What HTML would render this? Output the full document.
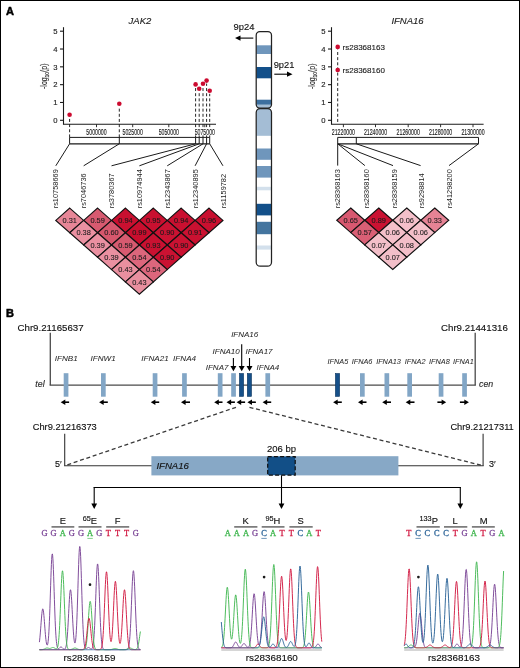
<!DOCTYPE html><html><head><meta charset="utf-8"><style>html,body{margin:0;padding:0;background:#fff;}svg{display:block;will-change:transform;} text{stroke-width:0.14px;paint-order:stroke;}</style></head><body><svg width="520" height="668" viewBox="0 0 520 668"><rect x="0.5" y="0.5" width="519" height="667" fill="none" stroke="#000" stroke-width="1"/>
<text x="6.00" y="14.80" font-size="11" text-anchor="start" font-weight="bold" font-style="normal" fill="#000" stroke="#000" font-family='"Liberation Sans", sans-serif' style="stroke-width:0.5px">A</text>
<text x="6.00" y="317.00" font-size="11" text-anchor="start" font-weight="bold" font-style="normal" fill="#000" stroke="#000" font-family='"Liberation Sans", sans-serif' style="stroke-width:0.5px">B</text>
<text x="128.60" y="24.40" font-size="9.5" text-anchor="start" font-weight="normal" font-style="italic" fill="#222" stroke="#222" font-family='"Liberation Sans", sans-serif' >JAK2</text>
<line x1="69.60" y1="137.40" x2="69.60" y2="117.80" stroke="#1a1a1a" stroke-width="0.95" stroke-dasharray="3,2.15"/>
<line x1="119.30" y1="137.40" x2="119.30" y2="106.80" stroke="#1a1a1a" stroke-width="0.95" stroke-dasharray="3,2.15"/>
<line x1="195.60" y1="137.40" x2="195.60" y2="87.40" stroke="#1a1a1a" stroke-width="0.95" stroke-dasharray="3,2.15"/>
<line x1="199.20" y1="137.40" x2="199.20" y2="91.80" stroke="#1a1a1a" stroke-width="0.95" stroke-dasharray="3,2.15"/>
<line x1="203.00" y1="137.40" x2="203.00" y2="86.80" stroke="#1a1a1a" stroke-width="0.95" stroke-dasharray="3,2.15"/>
<line x1="206.60" y1="137.40" x2="206.60" y2="83.60" stroke="#1a1a1a" stroke-width="0.95" stroke-dasharray="3,2.15"/>
<line x1="209.70" y1="137.40" x2="209.70" y2="93.80" stroke="#1a1a1a" stroke-width="0.95" stroke-dasharray="3,2.15"/>
<line x1="63.50" y1="27.20" x2="63.50" y2="124.30" stroke="#1a1a1a" stroke-width="1.1" />
<line x1="60.00" y1="120.30" x2="63.50" y2="120.30" stroke="#1a1a1a" stroke-width="1.1" />
<text x="57.50" y="123.05" font-size="7.7" text-anchor="end" font-weight="normal" font-style="normal" fill="#222" stroke="#222" font-family='"Liberation Sans", sans-serif' >0</text>
<line x1="60.00" y1="102.48" x2="63.50" y2="102.48" stroke="#1a1a1a" stroke-width="1.1" />
<text x="57.50" y="105.23" font-size="7.7" text-anchor="end" font-weight="normal" font-style="normal" fill="#222" stroke="#222" font-family='"Liberation Sans", sans-serif' >1</text>
<line x1="60.00" y1="84.66" x2="63.50" y2="84.66" stroke="#1a1a1a" stroke-width="1.1" />
<text x="57.50" y="87.41" font-size="7.7" text-anchor="end" font-weight="normal" font-style="normal" fill="#222" stroke="#222" font-family='"Liberation Sans", sans-serif' >2</text>
<line x1="60.00" y1="66.84" x2="63.50" y2="66.84" stroke="#1a1a1a" stroke-width="1.1" />
<text x="57.50" y="69.59" font-size="7.7" text-anchor="end" font-weight="normal" font-style="normal" fill="#222" stroke="#222" font-family='"Liberation Sans", sans-serif' >3</text>
<line x1="60.00" y1="49.02" x2="63.50" y2="49.02" stroke="#1a1a1a" stroke-width="1.1" />
<text x="57.50" y="51.77" font-size="7.7" text-anchor="end" font-weight="normal" font-style="normal" fill="#222" stroke="#222" font-family='"Liberation Sans", sans-serif' >4</text>
<line x1="60.00" y1="31.20" x2="63.50" y2="31.20" stroke="#1a1a1a" stroke-width="1.1" />
<text x="57.50" y="33.95" font-size="7.7" text-anchor="end" font-weight="normal" font-style="normal" fill="#222" stroke="#222" font-family='"Liberation Sans", sans-serif' >5</text>
<line x1="62.95" y1="124.30" x2="216.00" y2="124.30" stroke="#1a1a1a" stroke-width="1.1" />
<line x1="96.50" y1="124.30" x2="96.50" y2="127.20" stroke="#1a1a1a" stroke-width="0.9" />
<rect x="85.84" y="128.2" width="21.32" height="7.2" fill="#fff"/>
<text transform="translate(96.50,134.7) scale(0.58,1)" font-size="9" text-anchor="middle" fill="#1a1a1a" stroke="#1a1a1a" font-family='"Liberation Sans", sans-serif'>5000000</text>
<line x1="132.70" y1="124.30" x2="132.70" y2="127.20" stroke="#1a1a1a" stroke-width="0.9" />
<rect x="122.04" y="128.2" width="21.32" height="7.2" fill="#fff"/>
<text transform="translate(132.70,134.7) scale(0.58,1)" font-size="9" text-anchor="middle" fill="#1a1a1a" stroke="#1a1a1a" font-family='"Liberation Sans", sans-serif'>5025000</text>
<line x1="168.80" y1="124.30" x2="168.80" y2="127.20" stroke="#1a1a1a" stroke-width="0.9" />
<rect x="158.14" y="128.2" width="21.32" height="7.2" fill="#fff"/>
<text transform="translate(168.80,134.7) scale(0.58,1)" font-size="9" text-anchor="middle" fill="#1a1a1a" stroke="#1a1a1a" font-family='"Liberation Sans", sans-serif'>5050000</text>
<line x1="204.80" y1="124.30" x2="204.80" y2="127.20" stroke="#1a1a1a" stroke-width="0.9" />
<rect x="194.14" y="128.2" width="21.32" height="7.2" fill="#fff"/>
<text transform="translate(204.80,134.7) scale(0.58,1)" font-size="9" text-anchor="middle" fill="#1a1a1a" stroke="#1a1a1a" font-family='"Liberation Sans", sans-serif'>5075000</text>
<text transform="translate(46.80,76.25) rotate(-90) scale(0.82,1)" font-size="8.4" text-anchor="middle" fill="#222" stroke="#222" font-family='"Liberation Sans", sans-serif'>-log<tspan font-size="6" dy="1.7">10</tspan><tspan dy="-1.7">(p)</tspan></text>
<line x1="69.60" y1="137.40" x2="209.70" y2="137.40" stroke="#1a1a1a" stroke-width="1" />
<line x1="69.60" y1="143.80" x2="209.70" y2="143.80" stroke="#1a1a1a" stroke-width="1.25" />
<line x1="69.60" y1="137.40" x2="69.60" y2="143.80" stroke="#1a1a1a" stroke-width="1" />
<line x1="119.30" y1="137.40" x2="119.30" y2="143.80" stroke="#1a1a1a" stroke-width="1" />
<line x1="195.60" y1="137.40" x2="195.60" y2="143.80" stroke="#1a1a1a" stroke-width="1" />
<line x1="199.20" y1="137.40" x2="199.20" y2="143.80" stroke="#1a1a1a" stroke-width="1" />
<line x1="203.00" y1="137.40" x2="203.00" y2="143.80" stroke="#1a1a1a" stroke-width="1" />
<line x1="206.60" y1="137.40" x2="206.60" y2="143.80" stroke="#1a1a1a" stroke-width="1" />
<line x1="209.70" y1="137.40" x2="209.70" y2="143.80" stroke="#1a1a1a" stroke-width="1" />
<circle cx="69.6" cy="114.8" r="2.3" fill="#cc0b30"/>
<circle cx="119.3" cy="103.8" r="2.3" fill="#cc0b30"/>
<circle cx="195.6" cy="84.4" r="2.3" fill="#cc0b30"/>
<circle cx="199.2" cy="88.8" r="2.3" fill="#cc0b30"/>
<circle cx="203.0" cy="83.8" r="2.3" fill="#cc0b30"/>
<circle cx="206.6" cy="80.6" r="2.3" fill="#cc0b30"/>
<circle cx="209.7" cy="90.8" r="2.3" fill="#cc0b30"/>
<line x1="69.60" y1="143.80" x2="55.80" y2="165.80" stroke="#1a1a1a" stroke-width="1" />
<text transform="translate(58.40,208.3) rotate(-90)" font-size="7.4" fill="#222" font-family='"Liberation Sans", sans-serif'>rs10758669</text>
<line x1="119.30" y1="143.80" x2="83.66" y2="165.80" stroke="#1a1a1a" stroke-width="1" />
<text transform="translate(86.26,208.3) rotate(-90)" font-size="7.4" fill="#222" font-family='"Liberation Sans", sans-serif'>rs7046736</text>
<line x1="195.60" y1="143.80" x2="111.52" y2="165.80" stroke="#1a1a1a" stroke-width="1" />
<text transform="translate(114.12,208.3) rotate(-90)" font-size="7.4" fill="#222" font-family='"Liberation Sans", sans-serif'>rs3780367</text>
<line x1="199.20" y1="143.80" x2="139.38" y2="165.80" stroke="#1a1a1a" stroke-width="1" />
<text transform="translate(141.98,208.3) rotate(-90)" font-size="7.4" fill="#222" font-family='"Liberation Sans", sans-serif'>rs10974944</text>
<line x1="203.00" y1="143.80" x2="167.24" y2="165.80" stroke="#1a1a1a" stroke-width="1" />
<text transform="translate(169.84,208.3) rotate(-90)" font-size="7.4" fill="#222" font-family='"Liberation Sans", sans-serif'>rs12343867</text>
<line x1="206.60" y1="143.80" x2="195.10" y2="165.80" stroke="#1a1a1a" stroke-width="1" />
<text transform="translate(197.70,208.3) rotate(-90)" font-size="7.4" fill="#222" font-family='"Liberation Sans", sans-serif'>rs12340895</text>
<line x1="209.70" y1="143.80" x2="222.96" y2="165.80" stroke="#1a1a1a" stroke-width="1" />
<text transform="translate(225.56,208.3) rotate(-90)" font-size="7.4" fill="#222" font-family='"Liberation Sans", sans-serif'>rs1159782</text>
<polygon points="69.72999999999999,208.1 83.66,220.4 69.72999999999999,232.70000000000002 55.79999999999999,220.4" fill="#e78697" stroke="#111" stroke-width="1.15" stroke-linejoin="miter"/>
<polygon points="97.58999999999999,208.1 111.51999999999998,220.4 97.58999999999999,232.70000000000002 83.66,220.4" fill="#d75a70" stroke="#111" stroke-width="1.15" stroke-linejoin="miter"/>
<polygon points="125.44999999999999,208.1 139.38,220.4 125.44999999999999,232.70000000000002 111.51999999999998,220.4" fill="#c91030" stroke="#111" stroke-width="1.15" stroke-linejoin="miter"/>
<polygon points="153.31,208.1 167.24,220.4 153.31,232.70000000000002 139.38,220.4" fill="#c91030" stroke="#111" stroke-width="1.15" stroke-linejoin="miter"/>
<polygon points="181.17,208.1 195.1,220.4 181.17,232.70000000000002 167.23999999999998,220.4" fill="#c91030" stroke="#111" stroke-width="1.15" stroke-linejoin="miter"/>
<polygon points="209.03,208.1 222.96,220.4 209.03,232.70000000000002 195.1,220.4" fill="#c90f2f" stroke="#111" stroke-width="1.15" stroke-linejoin="miter"/>
<polygon points="83.66,220.4 97.59,232.70000000000002 83.66,245.00000000000003 69.72999999999999,232.70000000000002" fill="#ea90a1" stroke="#111" stroke-width="1.15" stroke-linejoin="miter"/>
<polygon points="111.52,220.4 125.44999999999999,232.70000000000002 111.52,245.00000000000003 97.59,232.70000000000002" fill="#d6576d" stroke="#111" stroke-width="1.15" stroke-linejoin="miter"/>
<polygon points="139.38,220.4 153.31,232.70000000000002 139.38,245.00000000000003 125.44999999999999,232.70000000000002" fill="#c80e2e" stroke="#111" stroke-width="1.15" stroke-linejoin="miter"/>
<polygon points="167.24,220.4 181.17000000000002,232.70000000000002 167.24,245.00000000000003 153.31,232.70000000000002" fill="#ca1232" stroke="#111" stroke-width="1.15" stroke-linejoin="miter"/>
<polygon points="195.1,220.4 209.03,232.70000000000002 195.1,245.00000000000003 181.17,232.70000000000002" fill="#ca1131" stroke="#111" stroke-width="1.15" stroke-linejoin="miter"/>
<polygon points="97.58999999999999,232.7 111.51999999999998,245.0 97.58999999999999,257.3 83.66,245.0" fill="#ea90a1" stroke="#111" stroke-width="1.15" stroke-linejoin="miter"/>
<polygon points="125.44999999999999,232.7 139.38,245.0 125.44999999999999,257.3 111.51999999999998,245.0" fill="#d75a70" stroke="#111" stroke-width="1.15" stroke-linejoin="miter"/>
<polygon points="153.31,232.7 167.24,245.0 153.31,257.3 139.38,245.0" fill="#c91131" stroke="#111" stroke-width="1.15" stroke-linejoin="miter"/>
<polygon points="181.17,232.7 195.1,245.0 181.17,257.3 167.23999999999998,245.0" fill="#ca1232" stroke="#111" stroke-width="1.15" stroke-linejoin="miter"/>
<polygon points="111.51999999999998,245.0 125.44999999999999,257.3 111.51999999999998,269.6 97.58999999999997,257.3" fill="#ea90a1" stroke="#111" stroke-width="1.15" stroke-linejoin="miter"/>
<polygon points="139.38,245.0 153.31,257.3 139.38,269.6 125.44999999999999,257.3" fill="#dc667c" stroke="#111" stroke-width="1.15" stroke-linejoin="miter"/>
<polygon points="167.23999999999998,245.0 181.17,257.3 167.23999999999998,269.6 153.30999999999997,257.3" fill="#ca1232" stroke="#111" stroke-width="1.15" stroke-linejoin="miter"/>
<polygon points="125.44999999999999,257.3 139.38,269.6 125.44999999999999,281.90000000000003 111.51999999999998,269.6" fill="#e98f9f" stroke="#111" stroke-width="1.15" stroke-linejoin="miter"/>
<polygon points="153.31,257.3 167.24,269.6 153.31,281.90000000000003 139.38,269.6" fill="#dc667c" stroke="#111" stroke-width="1.15" stroke-linejoin="miter"/>
<polygon points="139.38,269.59999999999997 153.31,281.9 139.38,294.2 125.44999999999999,281.9" fill="#e98f9f" stroke="#111" stroke-width="1.15" stroke-linejoin="miter"/>
<text x="69.73" y="223.00" font-size="7.4" text-anchor="middle" font-weight="normal" font-style="normal" fill="#1a1a1a" stroke="#1a1a1a" font-family='"Liberation Sans", sans-serif' style="stroke-width:0.08px">0.31</text>
<text x="97.59" y="223.00" font-size="7.4" text-anchor="middle" font-weight="normal" font-style="normal" fill="#1a1a1a" stroke="#1a1a1a" font-family='"Liberation Sans", sans-serif' style="stroke-width:0.08px">0.59</text>
<text x="125.45" y="223.00" font-size="7.4" text-anchor="middle" font-weight="normal" font-style="normal" fill="#1a1a1a" stroke="#1a1a1a" font-family='"Liberation Sans", sans-serif' style="stroke-width:0.08px">0.94</text>
<text x="153.31" y="223.00" font-size="7.4" text-anchor="middle" font-weight="normal" font-style="normal" fill="#1a1a1a" stroke="#1a1a1a" font-family='"Liberation Sans", sans-serif' style="stroke-width:0.08px">0.95</text>
<text x="181.17" y="223.00" font-size="7.4" text-anchor="middle" font-weight="normal" font-style="normal" fill="#1a1a1a" stroke="#1a1a1a" font-family='"Liberation Sans", sans-serif' style="stroke-width:0.08px">0.94</text>
<text x="209.03" y="223.00" font-size="7.4" text-anchor="middle" font-weight="normal" font-style="normal" fill="#1a1a1a" stroke="#1a1a1a" font-family='"Liberation Sans", sans-serif' style="stroke-width:0.08px">0.96</text>
<text x="83.66" y="235.30" font-size="7.4" text-anchor="middle" font-weight="normal" font-style="normal" fill="#1a1a1a" stroke="#1a1a1a" font-family='"Liberation Sans", sans-serif' style="stroke-width:0.08px">0.38</text>
<text x="111.52" y="235.30" font-size="7.4" text-anchor="middle" font-weight="normal" font-style="normal" fill="#1a1a1a" stroke="#1a1a1a" font-family='"Liberation Sans", sans-serif' style="stroke-width:0.08px">0.60</text>
<text x="139.38" y="235.30" font-size="7.4" text-anchor="middle" font-weight="normal" font-style="normal" fill="#1a1a1a" stroke="#1a1a1a" font-family='"Liberation Sans", sans-serif' style="stroke-width:0.08px">0.99</text>
<text x="167.24" y="235.30" font-size="7.4" text-anchor="middle" font-weight="normal" font-style="normal" fill="#1a1a1a" stroke="#1a1a1a" font-family='"Liberation Sans", sans-serif' style="stroke-width:0.08px">0.90</text>
<text x="195.10" y="235.30" font-size="7.4" text-anchor="middle" font-weight="normal" font-style="normal" fill="#1a1a1a" stroke="#1a1a1a" font-family='"Liberation Sans", sans-serif' style="stroke-width:0.08px">0.91</text>
<text x="97.59" y="247.60" font-size="7.4" text-anchor="middle" font-weight="normal" font-style="normal" fill="#1a1a1a" stroke="#1a1a1a" font-family='"Liberation Sans", sans-serif' style="stroke-width:0.08px">0.39</text>
<text x="125.45" y="247.60" font-size="7.4" text-anchor="middle" font-weight="normal" font-style="normal" fill="#1a1a1a" stroke="#1a1a1a" font-family='"Liberation Sans", sans-serif' style="stroke-width:0.08px">0.59</text>
<text x="153.31" y="247.60" font-size="7.4" text-anchor="middle" font-weight="normal" font-style="normal" fill="#1a1a1a" stroke="#1a1a1a" font-family='"Liberation Sans", sans-serif' style="stroke-width:0.08px">0.93</text>
<text x="181.17" y="247.60" font-size="7.4" text-anchor="middle" font-weight="normal" font-style="normal" fill="#1a1a1a" stroke="#1a1a1a" font-family='"Liberation Sans", sans-serif' style="stroke-width:0.08px">0.90</text>
<text x="111.52" y="259.90" font-size="7.4" text-anchor="middle" font-weight="normal" font-style="normal" fill="#1a1a1a" stroke="#1a1a1a" font-family='"Liberation Sans", sans-serif' style="stroke-width:0.08px">0.39</text>
<text x="139.38" y="259.90" font-size="7.4" text-anchor="middle" font-weight="normal" font-style="normal" fill="#1a1a1a" stroke="#1a1a1a" font-family='"Liberation Sans", sans-serif' style="stroke-width:0.08px">0.54</text>
<text x="167.24" y="259.90" font-size="7.4" text-anchor="middle" font-weight="normal" font-style="normal" fill="#1a1a1a" stroke="#1a1a1a" font-family='"Liberation Sans", sans-serif' style="stroke-width:0.08px">0.90</text>
<text x="125.45" y="272.20" font-size="7.4" text-anchor="middle" font-weight="normal" font-style="normal" fill="#1a1a1a" stroke="#1a1a1a" font-family='"Liberation Sans", sans-serif' style="stroke-width:0.08px">0.43</text>
<text x="153.31" y="272.20" font-size="7.4" text-anchor="middle" font-weight="normal" font-style="normal" fill="#1a1a1a" stroke="#1a1a1a" font-family='"Liberation Sans", sans-serif' style="stroke-width:0.08px">0.54</text>
<text x="139.38" y="284.50" font-size="7.4" text-anchor="middle" font-weight="normal" font-style="normal" fill="#1a1a1a" stroke="#1a1a1a" font-family='"Liberation Sans", sans-serif' style="stroke-width:0.08px">0.43</text>
<text x="391.40" y="24.40" font-size="9.5" text-anchor="start" font-weight="normal" font-style="italic" fill="#222" stroke="#222" font-family='"Liberation Sans", sans-serif' >IFNA16</text>
<line x1="337.70" y1="124.00" x2="337.70" y2="49.50" stroke="#1a1a1a" stroke-width="0.95" stroke-dasharray="3,2.15" stroke-dashoffset="3.1"/>
<line x1="331.50" y1="27.20" x2="331.50" y2="124.30" stroke="#1a1a1a" stroke-width="1.1" />
<line x1="328.00" y1="120.30" x2="331.50" y2="120.30" stroke="#1a1a1a" stroke-width="1.1" />
<text x="325.50" y="123.05" font-size="7.7" text-anchor="end" font-weight="normal" font-style="normal" fill="#222" stroke="#222" font-family='"Liberation Sans", sans-serif' >0</text>
<line x1="328.00" y1="102.48" x2="331.50" y2="102.48" stroke="#1a1a1a" stroke-width="1.1" />
<text x="325.50" y="105.23" font-size="7.7" text-anchor="end" font-weight="normal" font-style="normal" fill="#222" stroke="#222" font-family='"Liberation Sans", sans-serif' >1</text>
<line x1="328.00" y1="84.66" x2="331.50" y2="84.66" stroke="#1a1a1a" stroke-width="1.1" />
<text x="325.50" y="87.41" font-size="7.7" text-anchor="end" font-weight="normal" font-style="normal" fill="#222" stroke="#222" font-family='"Liberation Sans", sans-serif' >2</text>
<line x1="328.00" y1="66.84" x2="331.50" y2="66.84" stroke="#1a1a1a" stroke-width="1.1" />
<text x="325.50" y="69.59" font-size="7.7" text-anchor="end" font-weight="normal" font-style="normal" fill="#222" stroke="#222" font-family='"Liberation Sans", sans-serif' >3</text>
<line x1="328.00" y1="49.02" x2="331.50" y2="49.02" stroke="#1a1a1a" stroke-width="1.1" />
<text x="325.50" y="51.77" font-size="7.7" text-anchor="end" font-weight="normal" font-style="normal" fill="#222" stroke="#222" font-family='"Liberation Sans", sans-serif' >4</text>
<line x1="328.00" y1="31.20" x2="331.50" y2="31.20" stroke="#1a1a1a" stroke-width="1.1" />
<text x="325.50" y="33.95" font-size="7.7" text-anchor="end" font-weight="normal" font-style="normal" fill="#222" stroke="#222" font-family='"Liberation Sans", sans-serif' >5</text>
<line x1="330.95" y1="124.30" x2="483.60" y2="124.30" stroke="#1a1a1a" stroke-width="1.1" />
<line x1="343.40" y1="124.30" x2="343.40" y2="127.20" stroke="#1a1a1a" stroke-width="0.9" />
<rect x="331.29" y="128.2" width="24.22" height="7.2" fill="#fff"/>
<text transform="translate(343.40,134.7) scale(0.58,1)" font-size="9" text-anchor="middle" fill="#1a1a1a" stroke="#1a1a1a" font-family='"Liberation Sans", sans-serif'>21220000</text>
<line x1="375.50" y1="124.30" x2="375.50" y2="127.20" stroke="#1a1a1a" stroke-width="0.9" />
<rect x="363.39" y="128.2" width="24.22" height="7.2" fill="#fff"/>
<text transform="translate(375.50,134.7) scale(0.58,1)" font-size="9" text-anchor="middle" fill="#1a1a1a" stroke="#1a1a1a" font-family='"Liberation Sans", sans-serif'>21240000</text>
<line x1="408.20" y1="124.30" x2="408.20" y2="127.20" stroke="#1a1a1a" stroke-width="0.9" />
<rect x="396.09" y="128.2" width="24.22" height="7.2" fill="#fff"/>
<text transform="translate(408.20,134.7) scale(0.58,1)" font-size="9" text-anchor="middle" fill="#1a1a1a" stroke="#1a1a1a" font-family='"Liberation Sans", sans-serif'>21260000</text>
<line x1="440.60" y1="124.30" x2="440.60" y2="127.20" stroke="#1a1a1a" stroke-width="0.9" />
<rect x="428.49" y="128.2" width="24.22" height="7.2" fill="#fff"/>
<text transform="translate(440.60,134.7) scale(0.58,1)" font-size="9" text-anchor="middle" fill="#1a1a1a" stroke="#1a1a1a" font-family='"Liberation Sans", sans-serif'>21280000</text>
<line x1="473.00" y1="124.30" x2="473.00" y2="127.20" stroke="#1a1a1a" stroke-width="0.9" />
<rect x="460.89" y="128.2" width="24.22" height="7.2" fill="#fff"/>
<text transform="translate(473.00,134.7) scale(0.58,1)" font-size="9" text-anchor="middle" fill="#1a1a1a" stroke="#1a1a1a" font-family='"Liberation Sans", sans-serif'>21300000</text>
<text transform="translate(314.80,76.25) rotate(-90) scale(0.82,1)" font-size="8.4" text-anchor="middle" fill="#222" stroke="#222" font-family='"Liberation Sans", sans-serif'>-log<tspan font-size="6" dy="1.7">10</tspan><tspan dy="-1.7">(p)</tspan></text>
<circle cx="337.7" cy="46.9" r="2.3" fill="#cc0b30"/>
<text x="342.60" y="49.80" font-size="8.0" text-anchor="start" font-weight="normal" font-style="normal" fill="#222" stroke="#222" font-family='"Liberation Sans", sans-serif' >rs28368163</text>
<circle cx="337.7" cy="70.0" r="2.3" fill="#cc0b30"/>
<text x="342.60" y="72.90" font-size="8.0" text-anchor="start" font-weight="normal" font-style="normal" fill="#222" stroke="#222" font-family='"Liberation Sans", sans-serif' >rs28368160</text>
<line x1="337.70" y1="137.40" x2="478.50" y2="137.40" stroke="#1a1a1a" stroke-width="1" />
<line x1="337.70" y1="143.80" x2="478.50" y2="143.80" stroke="#1a1a1a" stroke-width="1.25" />
<line x1="337.70" y1="137.40" x2="337.70" y2="143.80" stroke="#1a1a1a" stroke-width="1" />
<line x1="356.30" y1="137.40" x2="356.30" y2="143.80" stroke="#1a1a1a" stroke-width="1" />
<line x1="478.50" y1="137.40" x2="478.50" y2="143.80" stroke="#1a1a1a" stroke-width="1" />
<line x1="337.70" y1="143.80" x2="337.70" y2="165.60" stroke="#1a1a1a" stroke-width="1" />
<text transform="translate(339.90,208.3) rotate(-90)" font-size="7.4" fill="#222" font-family='"Liberation Sans", sans-serif'>rs28368163</text>
<line x1="337.70" y1="143.80" x2="364.90" y2="165.60" stroke="#1a1a1a" stroke-width="1" />
<text transform="translate(368.50,208.3) rotate(-90)" font-size="7.4" fill="#222" font-family='"Liberation Sans", sans-serif'>rs28368160</text>
<line x1="337.70" y1="143.80" x2="393.00" y2="165.60" stroke="#1a1a1a" stroke-width="1" />
<text transform="translate(396.50,208.3) rotate(-90)" font-size="7.4" fill="#222" font-family='"Liberation Sans", sans-serif'>rs28368159</text>
<line x1="356.30" y1="143.80" x2="420.60" y2="165.60" stroke="#1a1a1a" stroke-width="1" />
<text transform="translate(424.20,208.3) rotate(-90)" font-size="7.4" fill="#222" font-family='"Liberation Sans", sans-serif'>rs9298814</text>
<line x1="478.50" y1="143.80" x2="449.00" y2="165.60" stroke="#1a1a1a" stroke-width="1" />
<text transform="translate(452.30,208.3) rotate(-90)" font-size="7.4" fill="#222" font-family='"Liberation Sans", sans-serif'>rs41298200</text>
<polygon points="350.75,208.0 364.75,220.3 350.75,232.60000000000002 336.75,220.3" fill="#d85870" stroke="#111" stroke-width="1.15" stroke-linejoin="miter"/>
<polygon points="378.75,208.0 392.75,220.3 378.75,232.60000000000002 364.75,220.3" fill="#ca1232" stroke="#111" stroke-width="1.15" stroke-linejoin="miter"/>
<polygon points="406.75,208.0 420.75,220.3 406.75,232.60000000000002 392.75,220.3" fill="#f4c0ca" stroke="#111" stroke-width="1.15" stroke-linejoin="miter"/>
<polygon points="434.75,208.0 448.75,220.3 434.75,232.60000000000002 420.75,220.3" fill="#e58395" stroke="#111" stroke-width="1.15" stroke-linejoin="miter"/>
<polygon points="364.75,220.3 378.75,232.60000000000002 364.75,244.90000000000003 350.75,232.60000000000002" fill="#d95f75" stroke="#111" stroke-width="1.15" stroke-linejoin="miter"/>
<polygon points="392.75,220.3 406.75,232.60000000000002 392.75,244.90000000000003 378.75,232.60000000000002" fill="#f4c0ca" stroke="#111" stroke-width="1.15" stroke-linejoin="miter"/>
<polygon points="420.75,220.3 434.75,232.60000000000002 420.75,244.90000000000003 406.75,232.60000000000002" fill="#f4c0ca" stroke="#111" stroke-width="1.15" stroke-linejoin="miter"/>
<polygon points="378.75,232.6 392.75,244.9 378.75,257.2 364.75,244.9" fill="#f3bfc9" stroke="#111" stroke-width="1.15" stroke-linejoin="miter"/>
<polygon points="406.75,232.6 420.75,244.9 406.75,257.2 392.75,244.9" fill="#f3bec8" stroke="#111" stroke-width="1.15" stroke-linejoin="miter"/>
<polygon points="392.75,244.90000000000003 406.75,257.20000000000005 392.75,269.50000000000006 378.75,257.20000000000005" fill="#f3bfc9" stroke="#111" stroke-width="1.15" stroke-linejoin="miter"/>
<text x="350.75" y="222.90" font-size="7.4" text-anchor="middle" font-weight="normal" font-style="normal" fill="#1a1a1a" stroke="#1a1a1a" font-family='"Liberation Sans", sans-serif' style="stroke-width:0.08px">0.65</text>
<text x="378.75" y="222.90" font-size="7.4" text-anchor="middle" font-weight="normal" font-style="normal" fill="#1a1a1a" stroke="#1a1a1a" font-family='"Liberation Sans", sans-serif' style="stroke-width:0.08px">0.89</text>
<text x="406.75" y="222.90" font-size="7.4" text-anchor="middle" font-weight="normal" font-style="normal" fill="#1a1a1a" stroke="#1a1a1a" font-family='"Liberation Sans", sans-serif' style="stroke-width:0.08px">0.06</text>
<text x="434.75" y="222.90" font-size="7.4" text-anchor="middle" font-weight="normal" font-style="normal" fill="#1a1a1a" stroke="#1a1a1a" font-family='"Liberation Sans", sans-serif' style="stroke-width:0.08px">0.33</text>
<text x="364.75" y="235.20" font-size="7.4" text-anchor="middle" font-weight="normal" font-style="normal" fill="#1a1a1a" stroke="#1a1a1a" font-family='"Liberation Sans", sans-serif' style="stroke-width:0.08px">0.57</text>
<text x="392.75" y="235.20" font-size="7.4" text-anchor="middle" font-weight="normal" font-style="normal" fill="#1a1a1a" stroke="#1a1a1a" font-family='"Liberation Sans", sans-serif' style="stroke-width:0.08px">0.06</text>
<text x="420.75" y="235.20" font-size="7.4" text-anchor="middle" font-weight="normal" font-style="normal" fill="#1a1a1a" stroke="#1a1a1a" font-family='"Liberation Sans", sans-serif' style="stroke-width:0.08px">0.06</text>
<text x="378.75" y="247.50" font-size="7.4" text-anchor="middle" font-weight="normal" font-style="normal" fill="#1a1a1a" stroke="#1a1a1a" font-family='"Liberation Sans", sans-serif' style="stroke-width:0.08px">0.07</text>
<text x="406.75" y="247.50" font-size="7.4" text-anchor="middle" font-weight="normal" font-style="normal" fill="#1a1a1a" stroke="#1a1a1a" font-family='"Liberation Sans", sans-serif' style="stroke-width:0.08px">0.08</text>
<text x="392.75" y="259.80" font-size="7.4" text-anchor="middle" font-weight="normal" font-style="normal" fill="#1a1a1a" stroke="#1a1a1a" font-family='"Liberation Sans", sans-serif' style="stroke-width:0.08px">0.07</text>
<defs><clipPath id="cp"><rect x="256.2" y="31.6" width="15.3" height="76.5" rx="3.6"/></clipPath><clipPath id="cq"><rect x="256.2" y="108.6" width="15.3" height="157.6" rx="4"/></clipPath></defs>
<g clip-path="url(#cp)"><rect x="256.2" y="45.3" width="15.3" height="8.700000000000003" fill="#6f96bc"/><rect x="256.2" y="67.0" width="15.3" height="11.299999999999997" fill="#13508a"/><rect x="256.2" y="99.7" width="15.3" height="5.099999999999994" fill="#3c6f9f"/><rect x="256.2" y="104.8" width="15.3" height="3.200000000000003" fill="#a4bdd5"/></g>
<g clip-path="url(#cq)"><rect x="256.2" y="108" width="15.3" height="27.80000000000001" fill="#a4bdd5"/><rect x="256.2" y="148.5" width="15.3" height="11.300000000000011" fill="#6f96bc"/><rect x="256.2" y="166.0" width="15.3" height="11.599999999999994" fill="#6f96bc"/><rect x="256.2" y="186.8" width="15.3" height="3.5" fill="#d3e0ec"/><rect x="256.2" y="203.8" width="15.3" height="11.599999999999994" fill="#13508a"/><rect x="256.2" y="221.8" width="15.3" height="12.399999999999977" fill="#44759f"/><rect x="256.2" y="245.5" width="15.3" height="4.099999999999994" fill="#d3e0ec"/></g>
<rect x="256.2" y="31.6" width="15.3" height="76.5" rx="3.6" fill="none" stroke="#222" stroke-width="1.25"/>
<rect x="256.2" y="108.6" width="15.3" height="157.6" rx="4" fill="none" stroke="#222" stroke-width="1.25"/>
<line x1="253.30" y1="38.10" x2="238.30" y2="38.10" stroke="#000" stroke-width="1.1" />
<polygon points="235.0,38.1 240.5,35.5 240.5,40.7" fill="#000"/>
<text x="233.60" y="30.30" font-size="9.4" text-anchor="start" font-weight="normal" font-style="normal" fill="#111" stroke="#111" font-family='"Liberation Sans", sans-serif' >9p24</text>
<line x1="274.30" y1="74.20" x2="289.20" y2="74.20" stroke="#000" stroke-width="1.1" />
<polygon points="292.5,74.2 287.0,71.60000000000001 287.0,76.8" fill="#000"/>
<text x="273.70" y="68.00" font-size="9.3" text-anchor="start" font-weight="normal" font-style="normal" fill="#111" stroke="#111" font-family='"Liberation Sans", sans-serif' >9p21</text>
<text x="17.50" y="331.30" font-size="9.7" text-anchor="start" font-weight="normal" font-style="normal" fill="#111" stroke="#111" font-family='"Liberation Sans", sans-serif' >Chr9.21165637</text>
<text x="507.80" y="331.30" font-size="9.7" text-anchor="end" font-weight="normal" font-style="normal" fill="#111" stroke="#111" font-family='"Liberation Sans", sans-serif' >Chr9.21441316</text>
<line x1="50.30" y1="332.80" x2="50.30" y2="385.20" stroke="#4a4a4a" stroke-width="1.3" />
<line x1="475.20" y1="332.80" x2="475.20" y2="385.20" stroke="#4a4a4a" stroke-width="1.3" />
<line x1="49.65" y1="385.20" x2="475.85" y2="385.20" stroke="#4a4a4a" stroke-width="1.3" />
<text x="44.60" y="386.90" font-size="8.8" text-anchor="end" font-weight="normal" font-style="italic" fill="#2a2a2a" stroke="#2a2a2a" font-family='"Liberation Sans", sans-serif' >tel</text>
<text x="479.00" y="386.90" font-size="8.8" text-anchor="start" font-weight="normal" font-style="italic" fill="#2a2a2a" stroke="#2a2a2a" font-family='"Liberation Sans", sans-serif' >cen</text>
<rect x="63.7" y="373.2" width="4.7" height="23.5" fill="#82a6c6"/>
<text x="66.20" y="361.30" font-size="8.1" text-anchor="middle" font-weight="normal" font-style="italic" fill="#2a2a2a" stroke="#2a2a2a" font-family='"Liberation Sans", sans-serif' style="stroke-width:0.05px">IFNB1</text>
<line x1="69.10" y1="402.20" x2="63.46" y2="402.20" stroke="#000" stroke-width="1.6" />
<polygon points="60.7,402.2 65.3,399.4 65.3,405.0" fill="#000"/>
<rect x="101.0" y="373.2" width="4.7" height="23.5" fill="#82a6c6"/>
<text x="103.10" y="361.30" font-size="8.1" text-anchor="middle" font-weight="normal" font-style="italic" fill="#2a2a2a" stroke="#2a2a2a" font-family='"Liberation Sans", sans-serif' style="stroke-width:0.05px">IFNW1</text>
<line x1="107.80" y1="402.20" x2="101.86" y2="402.20" stroke="#000" stroke-width="1.6" />
<polygon points="99.1,402.2 103.69999999999999,399.4 103.69999999999999,405.0" fill="#000"/>
<rect x="152.7" y="373.2" width="4.7" height="23.5" fill="#82a6c6"/>
<text x="155.00" y="361.30" font-size="8.1" text-anchor="middle" font-weight="normal" font-style="italic" fill="#2a2a2a" stroke="#2a2a2a" font-family='"Liberation Sans", sans-serif' style="stroke-width:0.05px">IFNA21</text>
<line x1="159.20" y1="402.20" x2="153.56" y2="402.20" stroke="#000" stroke-width="1.6" />
<polygon points="150.8,402.2 155.4,399.4 155.4,405.0" fill="#000"/>
<rect x="182.1" y="373.2" width="4.7" height="23.5" fill="#82a6c6"/>
<text x="184.60" y="361.30" font-size="8.1" text-anchor="middle" font-weight="normal" font-style="italic" fill="#2a2a2a" stroke="#2a2a2a" font-family='"Liberation Sans", sans-serif' style="stroke-width:0.05px">IFNA4</text>
<line x1="190.00" y1="402.20" x2="183.76" y2="402.20" stroke="#000" stroke-width="1.6" />
<polygon points="181.0,402.2 185.6,399.4 185.6,405.0" fill="#000"/>
<rect x="217.8" y="373.2" width="4.7" height="23.5" fill="#82a6c6"/>
<text x="217.10" y="370.10" font-size="8.0" text-anchor="middle" font-weight="normal" font-style="italic" fill="#2a2a2a" stroke="#2a2a2a" font-family='"Liberation Sans", sans-serif' style="stroke-width:0.05px">IFNA7</text>
<line x1="222.50" y1="402.20" x2="216.96" y2="402.20" stroke="#000" stroke-width="1.6" />
<polygon points="214.2,402.2 218.79999999999998,399.4 218.79999999999998,405.0" fill="#000"/>
<rect x="231.2" y="373.2" width="4.7" height="23.5" fill="#82a6c6"/>
<text x="226.10" y="354.40" font-size="8.0" text-anchor="middle" font-weight="normal" font-style="italic" fill="#2a2a2a" stroke="#2a2a2a" font-family='"Liberation Sans", sans-serif' style="stroke-width:0.05px">IFNA10</text>
<line x1="234.90" y1="402.20" x2="229.26" y2="402.20" stroke="#000" stroke-width="1.6" />
<polygon points="226.5,402.2 231.1,399.4 231.1,405.0" fill="#000"/>
<rect x="239.4" y="373.5" width="4.2" height="22.9" fill="#165089" stroke="#0b3560" stroke-width="0.6"/>
<text x="244.70" y="337.10" font-size="8.0" text-anchor="middle" font-weight="normal" font-style="italic" fill="#2a2a2a" stroke="#2a2a2a" font-family='"Liberation Sans", sans-serif' style="stroke-width:0.05px">IFNA16</text>
<line x1="245.10" y1="402.20" x2="239.36" y2="402.20" stroke="#000" stroke-width="1.6" />
<polygon points="236.6,402.2 241.2,399.4 241.2,405.0" fill="#000"/>
<rect x="247.3" y="373.5" width="4.2" height="22.9" fill="#165089" stroke="#0b3560" stroke-width="0.6"/>
<text x="259.00" y="354.40" font-size="8.0" text-anchor="middle" font-weight="normal" font-style="italic" fill="#2a2a2a" stroke="#2a2a2a" font-family='"Liberation Sans", sans-serif' style="stroke-width:0.05px">IFNA17</text>
<line x1="255.90" y1="402.20" x2="250.16" y2="402.20" stroke="#000" stroke-width="1.6" />
<polygon points="247.4,402.2 252.0,399.4 252.0,405.0" fill="#000"/>
<rect x="265.4" y="373.2" width="4.7" height="23.5" fill="#82a6c6"/>
<text x="267.90" y="370.10" font-size="8.0" text-anchor="middle" font-weight="normal" font-style="italic" fill="#2a2a2a" stroke="#2a2a2a" font-family='"Liberation Sans", sans-serif' style="stroke-width:0.05px">IFNA4</text>
<line x1="271.20" y1="402.20" x2="265.36" y2="402.20" stroke="#000" stroke-width="1.6" />
<polygon points="262.6,402.2 267.20000000000005,399.4 267.20000000000005,405.0" fill="#000"/>
<rect x="335.40000000000003" y="373.5" width="4.2" height="22.9" fill="#165089" stroke="#0b3560" stroke-width="0.6"/>
<text x="337.90" y="363.80" font-size="7.3" text-anchor="middle" font-weight="normal" font-style="italic" fill="#2a2a2a" stroke="#2a2a2a" font-family='"Liberation Sans", sans-serif' style="stroke-width:0.05px">IFNA5</text>
<line x1="341.80" y1="402.20" x2="335.86" y2="402.20" stroke="#000" stroke-width="1.6" />
<polygon points="333.1,402.2 337.70000000000005,399.4 337.70000000000005,405.0" fill="#000"/>
<rect x="360.0" y="373.2" width="4.7" height="23.5" fill="#82a6c6"/>
<text x="362.00" y="363.80" font-size="7.3" text-anchor="middle" font-weight="normal" font-style="italic" fill="#2a2a2a" stroke="#2a2a2a" font-family='"Liberation Sans", sans-serif' style="stroke-width:0.05px">IFNA6</text>
<line x1="366.50" y1="402.20" x2="360.76" y2="402.20" stroke="#000" stroke-width="1.6" />
<polygon points="358.0,402.2 362.6,399.4 362.6,405.0" fill="#000"/>
<rect x="384.5" y="373.2" width="4.7" height="23.5" fill="#82a6c6"/>
<text x="388.50" y="363.80" font-size="7.3" text-anchor="middle" font-weight="normal" font-style="italic" fill="#2a2a2a" stroke="#2a2a2a" font-family='"Liberation Sans", sans-serif' style="stroke-width:0.05px">IFNA13</text>
<line x1="391.00" y1="402.20" x2="384.96" y2="402.20" stroke="#000" stroke-width="1.6" />
<polygon points="382.2,402.2 386.8,399.4 386.8,405.0" fill="#000"/>
<rect x="407.3" y="373.2" width="4.7" height="23.5" fill="#82a6c6"/>
<text x="415.20" y="363.80" font-size="7.3" text-anchor="middle" font-weight="normal" font-style="italic" fill="#2a2a2a" stroke="#2a2a2a" font-family='"Liberation Sans", sans-serif' style="stroke-width:0.05px">IFNA2</text>
<line x1="414.50" y1="402.20" x2="408.46" y2="402.20" stroke="#000" stroke-width="1.6" />
<polygon points="405.7,402.2 410.3,399.4 410.3,405.0" fill="#000"/>
<rect x="438.7" y="373.2" width="4.7" height="23.5" fill="#82a6c6"/>
<text x="439.40" y="363.80" font-size="7.3" text-anchor="middle" font-weight="normal" font-style="italic" fill="#2a2a2a" stroke="#2a2a2a" font-family='"Liberation Sans", sans-serif' style="stroke-width:0.05px">IFNA8</text>
<line x1="437.40" y1="402.20" x2="443.44" y2="402.20" stroke="#000" stroke-width="1.6" />
<polygon points="446.2,402.2 441.59999999999997,399.4 441.59999999999997,405.0" fill="#000"/>
<rect x="462.2" y="373.2" width="4.7" height="23.5" fill="#82a6c6"/>
<text x="463.40" y="363.80" font-size="7.3" text-anchor="middle" font-weight="normal" font-style="italic" fill="#2a2a2a" stroke="#2a2a2a" font-family='"Liberation Sans", sans-serif' style="stroke-width:0.05px">IFNA1</text>
<line x1="459.90" y1="402.20" x2="466.14" y2="402.20" stroke="#000" stroke-width="1.6" />
<polygon points="468.9,402.2 464.29999999999995,399.4 464.29999999999995,405.0" fill="#000"/>
<line x1="241.70" y1="344.20" x2="241.70" y2="368.06" stroke="#000" stroke-width="1.1" />
<polygon points="241.7,371.3 238.7,365.90000000000003 244.7,365.90000000000003" fill="#000"/>
<line x1="233.40" y1="358.00" x2="233.40" y2="368.06" stroke="#000" stroke-width="1.1" />
<polygon points="233.4,371.3 230.4,365.90000000000003 236.4,365.90000000000003" fill="#000"/>
<line x1="249.50" y1="358.00" x2="249.50" y2="368.06" stroke="#000" stroke-width="1.1" />
<polygon points="249.5,371.3 246.5,365.90000000000003 252.5,365.90000000000003" fill="#000"/>
<line x1="236.00" y1="407.30" x2="64.70" y2="465.70" stroke="#3a3a3a" stroke-width="1.3" stroke-dasharray="4,2.7"/>
<line x1="249.50" y1="407.30" x2="483.10" y2="465.70" stroke="#3a3a3a" stroke-width="1.3" stroke-dasharray="4,2.7"/>
<text x="32.70" y="430.20" font-size="9.3" text-anchor="start" font-weight="normal" font-style="normal" fill="#111" stroke="#111" font-family='"Liberation Sans", sans-serif' >Chr9.21216373</text>
<text x="513.80" y="430.20" font-size="9.3" text-anchor="end" font-weight="normal" font-style="normal" fill="#111" stroke="#111" font-family='"Liberation Sans", sans-serif' >Chr9.21217311</text>
<line x1="64.70" y1="433.70" x2="64.70" y2="465.70" stroke="#333" stroke-width="1.1" />
<line x1="483.10" y1="433.70" x2="483.10" y2="465.70" stroke="#333" stroke-width="1.1" />
<line x1="64.10" y1="465.70" x2="152.00" y2="465.70" stroke="#333" stroke-width="1.1" />
<line x1="398.00" y1="465.70" x2="483.70" y2="465.70" stroke="#333" stroke-width="1.1" />
<text x="61.70" y="467.00" font-size="9" text-anchor="end" font-weight="normal" font-style="normal" fill="#111" stroke="#111" font-family='"Liberation Sans", sans-serif' >5′</text>
<text x="489.00" y="467.00" font-size="9" text-anchor="start" font-weight="normal" font-style="normal" fill="#111" stroke="#111" font-family='"Liberation Sans", sans-serif' >3′</text>
<rect x="151.4" y="456.2" width="247" height="19.2" fill="#87a8c6"/>
<text x="156.40" y="468.60" font-size="9.6" text-anchor="start" font-weight="normal" font-style="italic" fill="#111" stroke="#111" font-family='"Liberation Sans", sans-serif' >IFNA16</text>
<rect x="267.7" y="456.6" width="27.5" height="18.4" fill="#124f87" stroke="#111" stroke-width="1.25" stroke-dasharray="4,2.2" stroke-dashoffset="0"/>
<text x="281.50" y="451.60" font-size="9.5" text-anchor="middle" font-weight="normal" font-style="normal" fill="#111" stroke="#111" font-family='"Liberation Sans", sans-serif' >206 bp</text>
<line x1="281.50" y1="475.40" x2="281.50" y2="504.50" stroke="#000" stroke-width="1.1" />
<line x1="93.70" y1="487.50" x2="460.80" y2="487.50" stroke="#000" stroke-width="1.1" />
<line x1="94.20" y1="487.00" x2="94.20" y2="504.50" stroke="#000" stroke-width="1.1" />
<line x1="460.30" y1="487.00" x2="460.30" y2="504.50" stroke="#000" stroke-width="1.1" />
<polygon points="94.2,508.9 91.3,503.6 97.10000000000001,503.6" fill="#000"/>
<polygon points="281.5,508.9 278.6,503.6 284.4,503.6" fill="#000"/>
<polygon points="460.3,508.9 457.40000000000003,503.6 463.2,503.6" fill="#000"/>
<text x="44.50" y="536.20" font-size="8.4" text-anchor="middle" font-weight="normal" font-style="normal" fill="#7a4496" stroke="#7a4496" font-family='"Liberation Serif", serif' style="stroke-width:0.3px">G</text>
<text x="53.62" y="536.20" font-size="8.4" text-anchor="middle" font-weight="normal" font-style="normal" fill="#7a4496" stroke="#7a4496" font-family='"Liberation Serif", serif' style="stroke-width:0.3px">G</text>
<text x="62.74" y="536.20" font-size="8.4" text-anchor="middle" font-weight="normal" font-style="normal" fill="#45b854" stroke="#45b854" font-family='"Liberation Serif", serif' style="stroke-width:0.3px">A</text>
<text x="71.86" y="536.20" font-size="8.4" text-anchor="middle" font-weight="normal" font-style="normal" fill="#7a4496" stroke="#7a4496" font-family='"Liberation Serif", serif' style="stroke-width:0.3px">G</text>
<text x="80.98" y="536.20" font-size="8.4" text-anchor="middle" font-weight="normal" font-style="normal" fill="#7a4496" stroke="#7a4496" font-family='"Liberation Serif", serif' style="stroke-width:0.3px">G</text>
<text x="90.10" y="536.20" font-size="8.4" text-anchor="middle" font-weight="normal" font-style="normal" fill="#45b854" stroke="#45b854" font-family='"Liberation Serif", serif' style="stroke-width:0.3px">A</text>
<text x="99.22" y="536.20" font-size="8.4" text-anchor="middle" font-weight="normal" font-style="normal" fill="#7a4496" stroke="#7a4496" font-family='"Liberation Serif", serif' style="stroke-width:0.3px">G</text>
<text x="108.34" y="536.20" font-size="8.4" text-anchor="middle" font-weight="normal" font-style="normal" fill="#d21d45" stroke="#d21d45" font-family='"Liberation Serif", serif' style="stroke-width:0.3px">T</text>
<text x="117.46" y="536.20" font-size="8.4" text-anchor="middle" font-weight="normal" font-style="normal" fill="#d21d45" stroke="#d21d45" font-family='"Liberation Serif", serif' style="stroke-width:0.3px">T</text>
<text x="126.58" y="536.20" font-size="8.4" text-anchor="middle" font-weight="normal" font-style="normal" fill="#d21d45" stroke="#d21d45" font-family='"Liberation Serif", serif' style="stroke-width:0.3px">T</text>
<text x="135.70" y="536.20" font-size="8.4" text-anchor="middle" font-weight="normal" font-style="normal" fill="#7a4496" stroke="#7a4496" font-family='"Liberation Serif", serif' style="stroke-width:0.3px">G</text>
<line x1="87.40" y1="538.40" x2="92.80" y2="538.40" stroke="#45b854" stroke-width="0.9" opacity="0.75"/>
<line x1="51.50" y1="526.90" x2="74.30" y2="526.90" stroke="#666" stroke-width="1.5" />
<text x="62.90" y="524.20" font-size="9.4" text-anchor="middle" font-weight="normal" font-style="normal" fill="#111" stroke="#111" font-family='"Liberation Sans", sans-serif' >E</text>
<line x1="78.50" y1="526.90" x2="101.50" y2="526.90" stroke="#666" stroke-width="1.5" />
<text x="89.90" y="524.2" font-size="9.4" fill="#111" stroke="#111" font-family='"Liberation Sans", sans-serif' text-anchor="middle"><tspan font-size="7.3" dy="-2.9">65</tspan><tspan dy="2.9">E</tspan></text>
<line x1="106.20" y1="526.90" x2="129.20" y2="526.90" stroke="#666" stroke-width="1.5" />
<text x="117.70" y="524.20" font-size="9.4" text-anchor="middle" font-weight="normal" font-style="normal" fill="#111" stroke="#111" font-family='"Liberation Sans", sans-serif' >F</text>
<text x="227.80" y="536.20" font-size="8.4" text-anchor="middle" font-weight="normal" font-style="normal" fill="#45b854" stroke="#45b854" font-family='"Liberation Serif", serif' style="stroke-width:0.3px">A</text>
<text x="236.86" y="536.20" font-size="8.4" text-anchor="middle" font-weight="normal" font-style="normal" fill="#45b854" stroke="#45b854" font-family='"Liberation Serif", serif' style="stroke-width:0.3px">A</text>
<text x="245.92" y="536.20" font-size="8.4" text-anchor="middle" font-weight="normal" font-style="normal" fill="#45b854" stroke="#45b854" font-family='"Liberation Serif", serif' style="stroke-width:0.3px">A</text>
<text x="254.98" y="536.20" font-size="8.4" text-anchor="middle" font-weight="normal" font-style="normal" fill="#7a4496" stroke="#7a4496" font-family='"Liberation Serif", serif' style="stroke-width:0.3px">G</text>
<text x="264.04" y="536.20" font-size="8.4" text-anchor="middle" font-weight="normal" font-style="normal" fill="#2c6498" stroke="#2c6498" font-family='"Liberation Serif", serif' style="stroke-width:0.3px">C</text>
<text x="273.10" y="536.20" font-size="8.4" text-anchor="middle" font-weight="normal" font-style="normal" fill="#45b854" stroke="#45b854" font-family='"Liberation Serif", serif' style="stroke-width:0.3px">A</text>
<text x="282.16" y="536.20" font-size="8.4" text-anchor="middle" font-weight="normal" font-style="normal" fill="#d21d45" stroke="#d21d45" font-family='"Liberation Serif", serif' style="stroke-width:0.3px">T</text>
<text x="291.22" y="536.20" font-size="8.4" text-anchor="middle" font-weight="normal" font-style="normal" fill="#d21d45" stroke="#d21d45" font-family='"Liberation Serif", serif' style="stroke-width:0.3px">T</text>
<text x="300.28" y="536.20" font-size="8.4" text-anchor="middle" font-weight="normal" font-style="normal" fill="#2c6498" stroke="#2c6498" font-family='"Liberation Serif", serif' style="stroke-width:0.3px">C</text>
<text x="309.34" y="536.20" font-size="8.4" text-anchor="middle" font-weight="normal" font-style="normal" fill="#45b854" stroke="#45b854" font-family='"Liberation Serif", serif' style="stroke-width:0.3px">A</text>
<text x="318.40" y="536.20" font-size="8.4" text-anchor="middle" font-weight="normal" font-style="normal" fill="#d21d45" stroke="#d21d45" font-family='"Liberation Serif", serif' style="stroke-width:0.3px">T</text>
<line x1="261.34" y1="538.40" x2="266.74" y2="538.40" stroke="#2c6498" stroke-width="0.9" opacity="0.75"/>
<line x1="234.20" y1="526.90" x2="257.40" y2="526.90" stroke="#666" stroke-width="1.5" />
<text x="245.70" y="524.20" font-size="9.4" text-anchor="middle" font-weight="normal" font-style="normal" fill="#111" stroke="#111" font-family='"Liberation Sans", sans-serif' >K</text>
<line x1="261.70" y1="526.90" x2="284.50" y2="526.90" stroke="#666" stroke-width="1.5" />
<text x="272.90" y="524.2" font-size="9.4" fill="#111" stroke="#111" font-family='"Liberation Sans", sans-serif' text-anchor="middle"><tspan font-size="7.3" dy="-2.9">95</tspan><tspan dy="2.9">H</tspan></text>
<line x1="289.40" y1="526.90" x2="312.70" y2="526.90" stroke="#666" stroke-width="1.5" />
<text x="300.70" y="524.20" font-size="9.4" text-anchor="middle" font-weight="normal" font-style="normal" fill="#111" stroke="#111" font-family='"Liberation Sans", sans-serif' >S</text>
<text x="408.90" y="536.20" font-size="8.4" text-anchor="middle" font-weight="normal" font-style="normal" fill="#d21d45" stroke="#d21d45" font-family='"Liberation Serif", serif' style="stroke-width:0.3px">T</text>
<text x="418.16" y="536.20" font-size="8.4" text-anchor="middle" font-weight="normal" font-style="normal" fill="#2c6498" stroke="#2c6498" font-family='"Liberation Serif", serif' style="stroke-width:0.3px">C</text>
<text x="427.42" y="536.20" font-size="8.4" text-anchor="middle" font-weight="normal" font-style="normal" fill="#2c6498" stroke="#2c6498" font-family='"Liberation Serif", serif' style="stroke-width:0.3px">C</text>
<text x="436.68" y="536.20" font-size="8.4" text-anchor="middle" font-weight="normal" font-style="normal" fill="#2c6498" stroke="#2c6498" font-family='"Liberation Serif", serif' style="stroke-width:0.3px">C</text>
<text x="445.94" y="536.20" font-size="8.4" text-anchor="middle" font-weight="normal" font-style="normal" fill="#2c6498" stroke="#2c6498" font-family='"Liberation Serif", serif' style="stroke-width:0.3px">C</text>
<text x="455.20" y="536.20" font-size="8.4" text-anchor="middle" font-weight="normal" font-style="normal" fill="#d21d45" stroke="#d21d45" font-family='"Liberation Serif", serif' style="stroke-width:0.3px">T</text>
<text x="464.46" y="536.20" font-size="8.4" text-anchor="middle" font-weight="normal" font-style="normal" fill="#7a4496" stroke="#7a4496" font-family='"Liberation Serif", serif' style="stroke-width:0.3px">G</text>
<text x="473.72" y="536.20" font-size="8.4" text-anchor="middle" font-weight="normal" font-style="normal" fill="#45b854" stroke="#45b854" font-family='"Liberation Serif", serif' style="stroke-width:0.3px">A</text>
<text x="482.98" y="536.20" font-size="8.4" text-anchor="middle" font-weight="normal" font-style="normal" fill="#d21d45" stroke="#d21d45" font-family='"Liberation Serif", serif' style="stroke-width:0.3px">T</text>
<text x="492.24" y="536.20" font-size="8.4" text-anchor="middle" font-weight="normal" font-style="normal" fill="#7a4496" stroke="#7a4496" font-family='"Liberation Serif", serif' style="stroke-width:0.3px">G</text>
<text x="501.50" y="536.20" font-size="8.4" text-anchor="middle" font-weight="normal" font-style="normal" fill="#45b854" stroke="#45b854" font-family='"Liberation Serif", serif' style="stroke-width:0.3px">A</text>
<line x1="415.46" y1="538.40" x2="420.86" y2="538.40" stroke="#2c6498" stroke-width="0.9" opacity="0.75"/>
<line x1="416.50" y1="526.90" x2="439.80" y2="526.90" stroke="#666" stroke-width="1.5" />
<text x="428.70" y="524.2" font-size="9.4" fill="#111" stroke="#111" font-family='"Liberation Sans", sans-serif' text-anchor="middle"><tspan font-size="7.3" dy="-2.9">133</tspan><tspan dy="2.9">P</tspan></text>
<line x1="444.00" y1="526.90" x2="467.30" y2="526.90" stroke="#666" stroke-width="1.5" />
<text x="455.20" y="524.20" font-size="9.4" text-anchor="middle" font-weight="normal" font-style="normal" fill="#111" stroke="#111" font-family='"Liberation Sans", sans-serif' >L</text>
<line x1="471.90" y1="526.90" x2="494.80" y2="526.90" stroke="#666" stroke-width="1.5" />
<text x="483.60" y="524.20" font-size="9.4" text-anchor="middle" font-weight="normal" font-style="normal" fill="#111" stroke="#111" font-family='"Liberation Sans", sans-serif' >M</text>
<polyline points="39.40,642.14 39.65,640.10 39.90,637.73 40.15,635.04 40.40,632.07 40.65,628.88 40.90,625.56 41.15,622.22 41.40,618.98 41.65,615.99 41.90,613.36 42.15,611.25 42.40,609.74 42.65,608.93 42.90,608.86 43.15,609.52 43.40,610.89 43.65,612.90 43.90,615.42 44.15,618.35 44.40,621.55 44.65,624.87 44.90,628.19 45.15,631.39 45.40,634.37 45.65,637.07 45.90,639.41 46.15,641.38 46.40,642.95 46.65,644.10 46.90,644.84 47.15,645.13 47.40,644.97 47.65,644.31 47.90,643.12 48.15,641.33 48.40,638.89 48.65,635.73 48.90,631.81 49.15,627.08 49.40,621.56 49.65,615.28 49.90,608.33 50.15,600.87 50.40,593.10 50.65,585.27 50.90,577.68 51.15,570.65 51.40,564.50 51.65,559.54 51.90,556.02 52.15,554.11 52.40,553.94 52.65,555.50 52.90,558.71 53.15,563.41 53.40,569.34 53.65,576.22 53.90,583.72 54.15,591.53 54.40,599.35 54.65,606.90 54.90,613.98 55.15,620.43 55.40,626.14 55.65,631.08 55.90,635.25 56.15,638.69 56.40,641.45 56.65,643.62 56.90,645.28 57.15,646.51 57.40,647.40 57.65,648.01 57.90,648.40 58.15,648.61 58.40,648.68 58.65,648.64 58.90,648.52 59.15,648.34 59.40,648.11 59.65,647.86 59.90,647.62 60.15,647.39 60.40,647.20 60.65,647.07 60.90,647.00 61.15,647.01 61.40,647.09 61.65,647.24 61.90,647.44 62.15,647.69 62.40,647.95 62.65,648.22 62.90,648.48 63.15,648.71 63.40,648.91 63.65,649.07 63.90,649.18 64.15,649.24 64.40,649.23 64.65,649.16 64.90,648.99 65.15,648.72 65.40,648.32 65.65,647.75 65.90,646.96 66.15,645.91 66.40,644.55 66.65,642.82 66.90,640.66 67.15,638.05 67.40,634.96 67.65,631.39 67.90,627.35 68.15,622.92 68.40,618.20 68.65,613.31 68.90,608.42 69.15,603.73 69.40,599.42 69.65,595.71 69.90,592.77 70.15,590.76 70.40,589.79 70.65,589.90 70.90,591.09 71.15,593.29 71.40,596.39 71.65,600.23 71.90,604.63 72.15,609.37 72.40,614.26 72.65,619.10 72.90,623.74 73.15,628.03 73.40,631.88 73.65,635.21 73.90,637.98 74.15,640.16 74.40,641.74 74.65,642.71 74.90,643.05 75.15,642.76 75.40,641.79 75.65,640.10 75.90,637.65 76.15,634.37 76.40,630.23 76.65,625.20 76.90,619.28 77.15,612.54 77.40,605.07 77.65,597.04 77.90,588.66 78.15,580.22 78.40,572.04 78.65,564.46 78.90,557.84 79.15,552.49 79.40,548.69 79.65,546.64 79.90,546.45 80.15,548.13 80.40,551.60 80.65,556.66 80.90,563.05 81.15,570.47 81.40,578.56 81.65,586.98 81.90,595.41 82.15,603.55 82.40,611.19 82.65,618.14 82.90,624.30 83.15,629.63 83.40,634.12 83.65,637.83 83.90,640.81 84.15,643.15 84.40,644.95 84.65,646.29 84.90,647.26 85.15,647.94 85.40,648.38 85.65,648.64 85.90,648.76 86.15,648.77 86.40,648.70 86.65,648.56 86.90,648.39 87.15,648.19 87.40,648.00 87.65,647.81 87.90,647.66 88.15,647.55 88.40,647.50 88.65,647.51 88.90,647.57 89.15,647.69 89.40,647.86 89.65,648.05 89.90,648.26 90.15,648.47 90.40,648.67 90.65,648.84 90.90,648.97 91.15,649.04 91.40,649.05 91.65,648.97 91.90,648.79 92.15,648.47 92.40,647.97 92.65,647.26 92.90,646.27 93.15,644.93 93.40,643.17 93.65,640.91 93.90,638.08 94.15,634.62 94.40,630.48 94.65,625.64 94.90,620.12 95.15,614.00 95.40,607.39 95.65,600.47 95.90,593.45 96.15,586.59 96.40,580.18 96.65,574.50 96.90,569.83 97.15,566.40 97.40,564.40 97.65,563.93 97.90,565.02 98.15,567.61 98.40,571.56 98.65,576.66 98.90,582.67 99.15,589.30 99.40,596.25 99.65,603.26 99.90,610.09 100.15,616.52 100.40,622.41 100.65,627.66 100.90,632.22 101.15,636.09 101.40,639.29 101.65,641.89 101.90,643.94 102.15,645.53 102.40,646.74 102.65,647.63 102.90,648.28 103.15,648.75 103.40,649.07 103.65,649.29 103.90,649.44 104.15,649.54 104.40,649.60 104.65,649.64 104.90,649.66 105.15,649.68 105.40,649.69 105.65,649.69 105.90,649.70 106.15,649.70 106.40,649.70 106.65,649.70 106.90,649.70 107.15,649.70 107.40,649.70 107.65,649.70 107.90,649.70 108.15,649.70 108.40,649.70 108.65,649.70 108.90,649.70 109.15,649.70 109.40,649.70 109.65,649.70 109.90,649.70 110.15,649.70 110.40,649.70 110.65,649.70 110.90,649.70 111.15,649.70 111.40,649.70 111.65,649.70 111.90,649.70 112.15,649.70 112.40,649.70 112.65,649.70 112.90,649.70 113.15,649.70 113.40,649.70 113.65,649.70 113.90,649.70 114.15,649.70 114.40,649.70 114.65,649.70 114.90,649.70 115.15,649.70 115.40,649.70 115.65,649.70 115.90,649.70 116.15,649.70 116.40,649.70 116.65,649.70 116.90,649.70 117.15,649.70 117.40,649.70 117.65,649.70 117.90,649.70 118.15,649.70 118.40,649.70 118.65,649.70 118.90,649.70 119.15,649.70 119.40,649.70 119.65,649.70 119.90,649.70 120.15,649.70 120.40,649.70 120.65,649.70 120.90,649.70 121.15,649.70 121.40,649.70 121.65,649.70 121.90,649.70 122.15,649.70 122.40,649.70 122.65,649.70 122.90,649.70 123.15,649.70 123.40,649.70 123.65,649.70 123.90,649.70 124.15,649.70 124.40,649.70 124.65,649.70 124.90,649.70 125.15,649.70 125.40,649.69 125.65,649.69 125.90,649.68 126.15,649.66 126.40,649.64 126.65,649.60 126.90,649.54 127.15,649.44 127.40,649.29 127.65,649.07 127.90,648.75 128.15,648.29 128.40,647.65 128.65,646.78 128.90,645.60 129.15,644.06 129.40,642.07 129.65,639.57 129.90,636.51 130.15,632.82 130.40,628.49 130.65,623.53 130.90,618.00 131.15,611.99 131.40,605.66 131.65,599.20 131.90,592.83 132.15,586.82 132.40,581.44 132.65,576.93 132.90,573.53 133.15,571.42 133.40,570.70 133.65,571.42 133.90,573.53 134.15,576.93 134.40,581.44 134.65,586.82 134.90,592.83 135.15,599.20 135.40,605.66 135.65,611.99 135.90,618.00 136.15,623.53 136.40,628.49 136.65,632.82 136.90,636.51 137.15,639.57 137.40,642.07 137.65,644.06 137.90,645.60 138.15,646.78 138.40,647.65 138.65,648.29 138.90,648.75 139.15,649.07 139.40,649.29 139.65,649.44 139.90,649.54 140.15,649.60 140.40,649.64" fill="none" stroke="#7a4496" stroke-width="0.95" stroke-linejoin="round"/>
<polyline points="39.40,649.70 39.65,649.70 39.90,649.70 40.15,649.70 40.40,649.69 40.65,649.69 40.90,649.68 41.15,649.68 41.40,649.67 41.65,649.65 41.90,649.63 42.15,649.61 42.40,649.58 42.65,649.54 42.90,649.49 43.15,649.43 43.40,649.36 43.65,649.28 43.90,649.19 44.15,649.08 44.40,648.97 44.65,648.85 44.90,648.72 45.15,648.59 45.40,648.46 45.65,648.34 45.90,648.23 46.15,648.14 46.40,648.07 46.65,648.01 46.90,647.98 47.15,647.97 47.40,647.99 47.65,648.03 47.90,648.08 48.15,648.14 48.40,648.21 48.65,648.28 48.90,648.35 49.15,648.40 49.40,648.44 49.65,648.45 49.90,648.44 50.15,648.41 50.40,648.35 50.65,648.28 50.90,648.18 51.15,648.07 51.40,647.95 51.65,647.83 51.90,647.72 52.15,647.63 52.40,647.55 52.65,647.50 52.90,647.48 53.15,647.49 53.40,647.53 53.65,647.61 53.90,647.71 54.15,647.83 54.40,647.97 54.65,648.12 54.90,648.28 55.15,648.44 55.40,648.58 55.65,648.70 55.90,648.79 56.15,648.85 56.40,648.84 56.65,648.75 56.90,648.56 57.15,648.24 57.40,647.74 57.65,647.01 57.90,646.00 58.15,644.64 58.40,642.86 58.65,640.60 58.90,637.78 59.15,634.35 59.40,630.28 59.65,625.58 59.90,620.27 60.15,614.44 60.40,608.22 60.65,601.78 60.90,595.35 61.15,589.17 61.40,583.50 61.65,578.61 61.90,574.75 62.15,572.10 62.40,570.82 62.65,570.96 62.90,572.53 63.15,575.43 63.40,579.52 63.65,584.58 63.90,590.37 64.15,596.62 64.40,603.08 64.65,609.49 64.90,615.65 65.15,621.38 65.40,626.58 65.65,631.16 65.90,635.11 66.15,638.42 66.40,641.14 66.65,643.32 66.90,645.03 67.15,646.34 67.40,647.33 67.65,648.06 67.90,648.58 68.15,648.95 68.40,649.20 68.65,649.37 68.90,649.48 69.15,649.55 69.40,649.59 69.65,649.61 69.90,649.61 70.15,649.59 70.40,649.57 70.65,649.54 70.90,649.49 71.15,649.43 71.40,649.36 71.65,649.28 71.90,649.19 72.15,649.08 72.40,648.97 72.65,648.85 72.90,648.72 73.15,648.59 73.40,648.47 73.65,648.35 73.90,648.24 74.15,648.15 74.40,648.07 74.65,648.03 74.90,648.00 75.15,648.00 75.40,648.03 75.65,648.09 75.90,648.16 76.15,648.26 76.40,648.37 76.65,648.49 76.90,648.62 77.15,648.75 77.40,648.87 77.65,648.99 77.90,649.11 78.15,649.21 78.40,649.30 78.65,649.38 78.90,649.45 79.15,649.50 79.40,649.55 79.65,649.59 79.90,649.62 80.15,649.64 80.40,649.66 80.65,649.67 80.90,649.68 81.15,649.68 81.40,649.69 81.65,649.69 81.90,649.69 82.15,649.69 82.40,649.69 82.65,649.69 82.90,649.68 83.15,649.67 83.40,649.64 83.65,649.61 83.90,649.55 84.15,649.47 84.40,649.34 84.65,649.16 84.90,648.90 85.15,648.53 85.40,648.03 85.65,647.35 85.90,646.45 86.15,645.29 86.40,643.83 86.65,642.02 86.90,639.84 87.15,637.27 87.40,634.30 87.65,630.98 87.90,627.35 88.15,623.51 88.40,619.55 88.65,615.63 88.90,611.89 89.15,608.50 89.40,605.62 89.65,603.39 89.90,601.93 90.15,601.32 90.40,601.58 90.65,602.71 90.90,604.64 91.15,607.28 91.40,610.48 91.65,614.10 91.90,617.97 92.15,621.93 92.40,625.83 92.65,629.56 92.90,633.02 93.15,636.13 93.40,638.86 93.65,641.20 93.90,643.15 94.15,644.75 94.40,646.02 94.65,647.02 94.90,647.78 95.15,648.35 95.40,648.77 95.65,649.07 95.90,649.28 96.15,649.43 96.40,649.52 96.65,649.59 96.90,649.63 97.15,649.66 97.40,649.68 97.65,649.69 97.90,649.69 98.15,649.70 98.40,649.70 98.65,649.70 98.90,649.70 99.15,649.70 99.40,649.70 99.65,649.70 99.90,649.70 100.15,649.70 100.40,649.70 100.65,649.70 100.90,649.70 101.15,649.70 101.40,649.70 101.65,649.70 101.90,649.70 102.15,649.70 102.40,649.70 102.65,649.70 102.90,649.70 103.15,649.70 103.40,649.70 103.65,649.70 103.90,649.70 104.15,649.70 104.40,649.70 104.65,649.70 104.90,649.70 105.15,649.70 105.40,649.70 105.65,649.70 105.90,649.70 106.15,649.70 106.40,649.70 106.65,649.70 106.90,649.70 107.15,649.70 107.40,649.70 107.65,649.70 107.90,649.70 108.15,649.70 108.40,649.69 108.65,649.69 108.90,649.69 109.15,649.68 109.40,649.68 109.65,649.67 109.90,649.65 110.15,649.64 110.40,649.61 110.65,649.59 110.90,649.55 111.15,649.51 111.40,649.46 111.65,649.40 111.90,649.34 112.15,649.27 112.40,649.18 112.65,649.10 112.90,649.01 113.15,648.92 113.40,648.83 113.65,648.74 113.90,648.67 114.15,648.60 114.40,648.55 114.65,648.52 114.90,648.50 115.15,648.50 115.40,648.52 115.65,648.56 115.90,648.62 116.15,648.68 116.40,648.76 116.65,648.85 116.90,648.94 117.15,649.03 117.40,649.12 117.65,649.20 117.90,649.28 118.15,649.35 118.40,649.42 118.65,649.47 118.90,649.52 119.15,649.56 119.40,649.59 119.65,649.62 119.90,649.64 120.15,649.66 120.40,649.67 120.65,649.68 120.90,649.68 121.15,649.69 121.40,649.69 121.65,649.69 121.90,649.70 122.15,649.70 122.40,649.70 122.65,649.70 122.90,649.70 123.15,649.69 123.40,649.69 123.65,649.69 123.90,649.68 124.15,649.68 124.40,649.67 124.65,649.65 124.90,649.63 125.15,649.61 125.40,649.58 125.65,649.54 125.90,649.49 126.15,649.43 126.40,649.36 126.65,649.28 126.90,649.19 127.15,649.08 127.40,648.97 127.65,648.85 127.90,648.72 128.15,648.59 128.40,648.47 128.65,648.35 128.90,648.24 129.15,648.15 129.40,648.07 129.65,648.03 129.90,648.00 130.15,648.00 130.40,648.03 130.65,648.09 130.90,648.16 131.15,648.26 131.40,648.37 131.65,648.49 131.90,648.62 132.15,648.75 132.40,648.87 132.65,648.99 132.90,649.11 133.15,649.21 133.40,649.30 133.65,649.38 133.90,649.44 134.15,649.49 134.40,649.54 134.65,649.56 134.90,649.58 135.15,649.58 135.40,649.56 135.65,649.52 135.90,649.46 136.15,649.35 136.40,649.20 136.65,648.99 136.90,648.71 137.15,648.33 137.40,647.84 137.65,647.21 137.90,646.43 138.15,645.49 138.40,644.37 138.65,643.08 138.90,641.62 139.15,640.02 139.40,638.31 139.65,636.54 139.90,634.77 140.15,633.07 140.40,631.52" fill="none" stroke="#45b854" stroke-width="0.95" stroke-linejoin="round"/>
<polyline points="39.40,649.70 39.65,649.70 39.90,649.70 40.15,649.70 40.40,649.70 40.65,649.70 40.90,649.70 41.15,649.70 41.40,649.70 41.65,649.70 41.90,649.70 42.15,649.70 42.40,649.70 42.65,649.70 42.90,649.70 43.15,649.70 43.40,649.70 43.65,649.70 43.90,649.70 44.15,649.70 44.40,649.70 44.65,649.70 44.90,649.70 45.15,649.70 45.40,649.70 45.65,649.70 45.90,649.70 46.15,649.70 46.40,649.70 46.65,649.70 46.90,649.70 47.15,649.70 47.40,649.70 47.65,649.70 47.90,649.70 48.15,649.70 48.40,649.70 48.65,649.70 48.90,649.70 49.15,649.70 49.40,649.70 49.65,649.70 49.90,649.70 50.15,649.70 50.40,649.70 50.65,649.70 50.90,649.70 51.15,649.70 51.40,649.70 51.65,649.70 51.90,649.70 52.15,649.70 52.40,649.70 52.65,649.70 52.90,649.70 53.15,649.70 53.40,649.70 53.65,649.70 53.90,649.70 54.15,649.70 54.40,649.70 54.65,649.70 54.90,649.70 55.15,649.70 55.40,649.70 55.65,649.70 55.90,649.70 56.15,649.70 56.40,649.70 56.65,649.70 56.90,649.70 57.15,649.70 57.40,649.70 57.65,649.70 57.90,649.70 58.15,649.70 58.40,649.70 58.65,649.70 58.90,649.70 59.15,649.70 59.40,649.70 59.65,649.70 59.90,649.70 60.15,649.70 60.40,649.70 60.65,649.70 60.90,649.70 61.15,649.70 61.40,649.70 61.65,649.70 61.90,649.70 62.15,649.70 62.40,649.70 62.65,649.70 62.90,649.70 63.15,649.70 63.40,649.70 63.65,649.70 63.90,649.70 64.15,649.70 64.40,649.70 64.65,649.70 64.90,649.70 65.15,649.70 65.40,649.70 65.65,649.70 65.90,649.70 66.15,649.70 66.40,649.70 66.65,649.70 66.90,649.70 67.15,649.70 67.40,649.70 67.65,649.70 67.90,649.70 68.15,649.70 68.40,649.70 68.65,649.70 68.90,649.70 69.15,649.70 69.40,649.70 69.65,649.70 69.90,649.70 70.15,649.70 70.40,649.70 70.65,649.70 70.90,649.70 71.15,649.70 71.40,649.70 71.65,649.70 71.90,649.70 72.15,649.70 72.40,649.70 72.65,649.70 72.90,649.70 73.15,649.70 73.40,649.70 73.65,649.70 73.90,649.70 74.15,649.70 74.40,649.70 74.65,649.70 74.90,649.70 75.15,649.70 75.40,649.70 75.65,649.70 75.90,649.70 76.15,649.70 76.40,649.70 76.65,649.70 76.90,649.70 77.15,649.70 77.40,649.70 77.65,649.70 77.90,649.70 78.15,649.70 78.40,649.70 78.65,649.70 78.90,649.70 79.15,649.70 79.40,649.70 79.65,649.70 79.90,649.70 80.15,649.70 80.40,649.70 80.65,649.70 80.90,649.70 81.15,649.70 81.40,649.69 81.65,649.69 81.90,649.68 82.15,649.67 82.40,649.65 82.65,649.61 82.90,649.56 83.15,649.49 83.40,649.38 83.65,649.22 83.90,649.00 84.15,648.69 84.40,648.27 84.65,647.72 84.90,647.01 85.15,646.10 85.40,644.97 85.65,643.61 85.90,641.99 86.15,640.12 86.40,638.00 86.65,635.69 86.90,633.21 87.15,630.65 87.40,628.10 87.65,625.64 87.90,623.39 88.15,621.45 88.40,619.91 88.65,618.86 88.90,618.35 89.15,618.40 89.40,619.03 89.65,620.18 89.90,621.80 90.15,623.82 90.40,626.12 90.65,628.60 90.90,631.17 91.15,633.72 91.40,636.16 91.65,638.44 91.90,640.51 92.15,642.33 92.40,643.90 92.65,645.22 92.90,646.30 93.15,647.16 93.40,647.84 93.65,648.37 93.90,648.76 94.15,649.05 94.40,649.26 94.65,649.40 94.90,649.51 95.15,649.57 95.40,649.62 95.65,649.65 95.90,649.67 96.15,649.68 96.40,649.69 96.65,649.69 96.90,649.70 97.15,649.70 97.40,649.70 97.65,649.70 97.90,649.70 98.15,649.70 98.40,649.69 98.65,649.69 98.90,649.68 99.15,649.67 99.40,649.65 99.65,649.62 99.90,649.57 100.15,649.48 100.40,649.36 100.65,649.17 100.90,648.90 101.15,648.51 101.40,647.95 101.65,647.19 101.90,646.16 102.15,644.79 102.40,643.01 102.65,640.75 102.90,637.96 103.15,634.56 103.40,630.54 103.65,625.89 103.90,620.65 104.15,614.89 104.40,608.75 104.65,602.39 104.90,596.04 105.15,589.93 105.40,584.34 105.65,579.51 105.90,575.70 106.15,573.08 106.40,571.81 106.65,571.96 106.90,573.50 107.15,576.37 107.40,580.40 107.65,585.39 107.90,591.10 108.15,597.26 108.40,603.62 108.65,609.91 108.90,615.93 109.15,621.51 109.40,626.51 109.65,630.85 109.90,634.47 110.15,637.34 110.40,639.47 110.65,640.87 110.90,641.54 111.15,641.50 111.40,640.76 111.65,639.31 111.90,637.17 112.15,634.35 112.40,630.85 112.65,626.73 112.90,622.06 113.15,616.93 113.40,611.50 113.65,605.93 113.90,600.44 114.15,595.24 114.40,590.59 114.65,586.69 114.90,583.75 115.15,581.92 115.40,581.30 115.65,581.92 115.90,583.75 116.15,586.69 116.40,590.59 116.65,595.25 116.90,600.45 117.15,605.95 117.40,611.53 117.65,616.99 117.90,622.15 118.15,626.88 118.40,631.07 118.65,634.68 118.90,637.66 119.15,640.02 119.40,641.75 119.65,642.88 119.90,643.42 120.15,643.39 120.40,642.78 120.65,641.60 120.90,639.84 121.15,637.51 121.40,634.61 121.65,631.16 121.90,627.21 122.15,622.83 122.40,618.14 122.65,613.28 122.90,608.40 123.15,603.71 123.40,599.42 123.65,595.71 123.90,592.77 124.15,590.76 124.40,589.79 124.65,589.90 124.90,591.09 125.15,593.29 125.40,596.40 125.65,600.24 125.90,604.64 126.15,609.39 126.40,614.29 126.65,619.16 126.90,623.84 127.15,628.19 127.40,632.14 127.65,635.62 127.90,638.62 128.15,641.13 128.40,643.20 128.65,644.85 128.90,646.15 129.15,647.15 129.40,647.90 129.65,648.45 129.90,648.85 130.15,649.13 130.40,649.33 130.65,649.46 130.90,649.55 131.15,649.61 131.40,649.64 131.65,649.67 131.90,649.68 132.15,649.69 132.40,649.69 132.65,649.70 132.90,649.70 133.15,649.70 133.40,649.70 133.65,649.70 133.90,649.70 134.15,649.70 134.40,649.70 134.65,649.70 134.90,649.70 135.15,649.70 135.40,649.70 135.65,649.70 135.90,649.70 136.15,649.70 136.40,649.70 136.65,649.70 136.90,649.70 137.15,649.70 137.40,649.70 137.65,649.70 137.90,649.70 138.15,649.70 138.40,649.70 138.65,649.70 138.90,649.70 139.15,649.70 139.40,649.70 139.65,649.70 139.90,649.70 140.15,649.70 140.40,649.70" fill="none" stroke="#d21d45" stroke-width="0.95" stroke-linejoin="round"/>
<polyline points="39.40,649.70 39.65,649.70 39.90,649.70 40.15,649.70 40.40,649.70 40.65,649.70 40.90,649.70 41.15,649.70 41.40,649.70 41.65,649.70 41.90,649.70 42.15,649.70 42.40,649.70 42.65,649.70 42.90,649.70 43.15,649.70 43.40,649.70 43.65,649.70 43.90,649.70 44.15,649.70 44.40,649.70 44.65,649.70 44.90,649.70 45.15,649.70 45.40,649.70 45.65,649.70 45.90,649.70 46.15,649.70 46.40,649.70 46.65,649.70 46.90,649.70 47.15,649.70 47.40,649.70 47.65,649.70 47.90,649.70 48.15,649.70 48.40,649.70 48.65,649.70 48.90,649.70 49.15,649.70 49.40,649.70 49.65,649.70 49.90,649.70 50.15,649.70 50.40,649.70 50.65,649.70 50.90,649.70 51.15,649.70 51.40,649.70 51.65,649.70 51.90,649.70 52.15,649.70 52.40,649.70 52.65,649.70 52.90,649.70 53.15,649.70 53.40,649.70 53.65,649.70 53.90,649.70 54.15,649.70 54.40,649.70 54.65,649.70 54.90,649.70 55.15,649.70 55.40,649.70 55.65,649.70 55.90,649.70 56.15,649.70 56.40,649.70 56.65,649.70 56.90,649.70 57.15,649.70 57.40,649.70 57.65,649.70 57.90,649.70 58.15,649.70 58.40,649.70 58.65,649.70 58.90,649.70 59.15,649.70 59.40,649.70 59.65,649.70 59.90,649.70 60.15,649.70 60.40,649.70 60.65,649.70 60.90,649.70 61.15,649.70 61.40,649.70 61.65,649.70 61.90,649.70 62.15,649.70 62.40,649.70 62.65,649.70 62.90,649.70 63.15,649.70 63.40,649.70 63.65,649.70 63.90,649.70 64.15,649.70 64.40,649.70 64.65,649.70 64.90,649.70 65.15,649.70 65.40,649.70 65.65,649.70 65.90,649.70 66.15,649.70 66.40,649.70 66.65,649.70 66.90,649.70 67.15,649.70 67.40,649.70 67.65,649.70 67.90,649.70 68.15,649.70 68.40,649.70 68.65,649.70 68.90,649.70 69.15,649.70 69.40,649.70 69.65,649.70 69.90,649.70 70.15,649.70 70.40,649.70 70.65,649.70 70.90,649.70 71.15,649.70 71.40,649.70 71.65,649.70 71.90,649.70 72.15,649.70 72.40,649.70 72.65,649.70 72.90,649.70 73.15,649.70 73.40,649.70 73.65,649.70 73.90,649.70 74.15,649.70 74.40,649.70 74.65,649.70 74.90,649.70 75.15,649.70 75.40,649.70 75.65,649.70 75.90,649.70 76.15,649.70 76.40,649.70 76.65,649.70 76.90,649.70 77.15,649.70 77.40,649.70 77.65,649.70 77.90,649.70 78.15,649.70 78.40,649.70 78.65,649.70 78.90,649.70 79.15,649.70 79.40,649.70 79.65,649.70 79.90,649.70 80.15,649.70 80.40,649.70 80.65,649.70 80.90,649.70 81.15,649.70 81.40,649.70 81.65,649.70 81.90,649.70 82.15,649.70 82.40,649.70 82.65,649.70 82.90,649.70 83.15,649.70 83.40,649.70 83.65,649.70 83.90,649.70 84.15,649.70 84.40,649.70 84.65,649.70 84.90,649.70 85.15,649.70 85.40,649.70 85.65,649.70 85.90,649.70 86.15,649.70 86.40,649.70 86.65,649.70 86.90,649.70 87.15,649.70 87.40,649.70 87.65,649.70 87.90,649.70 88.15,649.70 88.40,649.70 88.65,649.70 88.90,649.70 89.15,649.70 89.40,649.70 89.65,649.70 89.90,649.70 90.15,649.70 90.40,649.70 90.65,649.70 90.90,649.70 91.15,649.70 91.40,649.70 91.65,649.70 91.90,649.70 92.15,649.70 92.40,649.70 92.65,649.70 92.90,649.70 93.15,649.70 93.40,649.70 93.65,649.70 93.90,649.70 94.15,649.70 94.40,649.70 94.65,649.70 94.90,649.70 95.15,649.70 95.40,649.70 95.65,649.70 95.90,649.70 96.15,649.70 96.40,649.70 96.65,649.70 96.90,649.70 97.15,649.70 97.40,649.70 97.65,649.70 97.90,649.70 98.15,649.70 98.40,649.70 98.65,649.70 98.90,649.70 99.15,649.70 99.40,649.70 99.65,649.70 99.90,649.70 100.15,649.70 100.40,649.70 100.65,649.70 100.90,649.70 101.15,649.70 101.40,649.70 101.65,649.70 101.90,649.70 102.15,649.70 102.40,649.70 102.65,649.70 102.90,649.70 103.15,649.70 103.40,649.70 103.65,649.70 103.90,649.70 104.15,649.70 104.40,649.70 104.65,649.70 104.90,649.70 105.15,649.70 105.40,649.70 105.65,649.70 105.90,649.70 106.15,649.70 106.40,649.70 106.65,649.70 106.90,649.70 107.15,649.70 107.40,649.70 107.65,649.70 107.90,649.70 108.15,649.70 108.40,649.70 108.65,649.70 108.90,649.70 109.15,649.70 109.40,649.70 109.65,649.70 109.90,649.70 110.15,649.70 110.40,649.70 110.65,649.70 110.90,649.70 111.15,649.70 111.40,649.70 111.65,649.70 111.90,649.70 112.15,649.70 112.40,649.70 112.65,649.70 112.90,649.70 113.15,649.70 113.40,649.70 113.65,649.70 113.90,649.70 114.15,649.70 114.40,649.70 114.65,649.70 114.90,649.70 115.15,649.70 115.40,649.70 115.65,649.70 115.90,649.70 116.15,649.70 116.40,649.70 116.65,649.70 116.90,649.70 117.15,649.70 117.40,649.70 117.65,649.70 117.90,649.70 118.15,649.70 118.40,649.70 118.65,649.70 118.90,649.70 119.15,649.70 119.40,649.70 119.65,649.70 119.90,649.70 120.15,649.70 120.40,649.70 120.65,649.70 120.90,649.70 121.15,649.70 121.40,649.70 121.65,649.70 121.90,649.70 122.15,649.70 122.40,649.70 122.65,649.70 122.90,649.70 123.15,649.70 123.40,649.70 123.65,649.70 123.90,649.70 124.15,649.70 124.40,649.70 124.65,649.70 124.90,649.70 125.15,649.70 125.40,649.70 125.65,649.70 125.90,649.70 126.15,649.70 126.40,649.70 126.65,649.70 126.90,649.70 127.15,649.70 127.40,649.70 127.65,649.70 127.90,649.70 128.15,649.70 128.40,649.70 128.65,649.70 128.90,649.70 129.15,649.70 129.40,649.70 129.65,649.70 129.90,649.70 130.15,649.70 130.40,649.70 130.65,649.70 130.90,649.70 131.15,649.70 131.40,649.70 131.65,649.70 131.90,649.70 132.15,649.70 132.40,649.70 132.65,649.70 132.90,649.70 133.15,649.70 133.40,649.70 133.65,649.70 133.90,649.70 134.15,649.70 134.40,649.70 134.65,649.70 134.90,649.70 135.15,649.70 135.40,649.70 135.65,649.70 135.90,649.70 136.15,649.70 136.40,649.70 136.65,649.70 136.90,649.70 137.15,649.70 137.40,649.70 137.65,649.70 137.90,649.70 138.15,649.70 138.40,649.70 138.65,649.70 138.90,649.70 139.15,649.70 139.40,649.70 139.65,649.70 139.90,649.70 140.15,649.70 140.40,649.70" fill="none" stroke="#2c6498" stroke-width="0.95" stroke-linejoin="round"/>
<line x1="221.30" y1="650.00" x2="321.80" y2="650.00" stroke="#c8c8c8" stroke-width="1.7" />
<polyline points="221.30,647.80 221.55,647.80 221.80,647.80 222.05,647.80 222.30,647.80 222.55,647.80 222.80,647.80 223.05,647.80 223.30,647.80 223.55,647.80 223.80,647.80 224.05,647.80 224.30,647.80 224.55,647.80 224.80,647.80 225.05,647.80 225.30,647.80 225.55,647.80 225.80,647.80 226.05,647.80 226.30,647.80 226.55,647.80 226.80,647.80 227.05,647.80 227.30,647.80 227.55,647.80 227.80,647.80 228.05,647.80 228.30,647.80 228.55,647.80 228.80,647.80 229.05,647.80 229.30,647.80 229.55,647.79 229.80,647.79 230.05,647.78 230.30,647.76 230.55,647.74 230.80,647.71 231.05,647.66 231.30,647.60 231.55,647.51 231.80,647.38 232.05,647.22 232.30,647.02 232.55,646.76 232.80,646.45 233.05,646.08 233.30,645.66 233.55,645.19 233.80,644.69 234.05,644.18 234.30,643.67 234.55,643.19 234.80,642.76 235.05,642.41 235.30,642.16 235.55,642.02 235.80,642.01 236.05,642.12 236.30,642.35 236.55,642.68 236.80,643.09 237.05,643.57 237.30,644.07 237.55,644.59 237.80,645.09 238.05,645.56 238.30,645.98 238.55,646.35 238.80,646.66 239.05,646.91 239.30,647.09 239.55,647.21 239.80,647.28 240.05,647.29 240.30,647.25 240.55,647.15 240.80,647.00 241.05,646.80 241.30,646.56 241.55,646.26 241.80,645.93 242.05,645.57 242.30,645.19 242.55,644.81 242.80,644.45 243.05,644.12 243.30,643.85 243.55,643.65 243.80,643.53 244.05,643.50 244.30,643.57 244.55,643.72 244.80,643.95 245.05,644.25 245.30,644.59 245.55,644.96 245.80,645.34 246.05,645.72 246.30,646.07 246.55,646.39 246.80,646.67 247.05,646.90 247.30,647.08 247.55,647.21 247.80,647.28 248.05,647.29 248.30,647.23 248.55,647.08 248.80,646.83 249.05,646.44 249.30,645.90 249.55,645.15 249.80,644.16 250.05,642.87 250.30,641.23 250.55,639.22 250.80,636.78 251.05,633.90 251.30,630.59 251.55,626.88 251.80,622.82 252.05,618.52 252.30,614.10 252.55,609.71 252.80,605.54 253.05,601.75 253.30,598.53 253.55,596.04 253.80,594.41 254.05,593.72 254.30,594.02 254.55,595.28 254.80,597.44 255.05,600.38 255.30,603.96 255.55,608.01 255.80,612.33 256.05,616.75 256.30,621.12 256.55,625.28 256.80,629.13 257.05,632.59 257.30,635.61 257.55,638.19 257.80,640.31 258.05,642.00 258.30,643.28 258.55,644.18 258.80,644.73 259.05,644.94 259.30,644.82 259.55,644.36 259.80,643.56 260.05,642.38 260.30,640.79 260.55,638.76 260.80,636.27 261.05,633.31 261.30,629.89 261.55,626.05 261.80,621.84 262.05,617.38 262.30,612.79 262.55,608.23 262.80,603.89 263.05,599.96 263.30,596.62 263.55,594.03 263.80,592.33 264.05,591.62 264.30,591.93 264.55,593.24 264.80,595.48 265.05,598.54 265.30,602.26 265.55,606.46 265.80,610.96 266.05,615.55 266.30,620.09 266.55,624.42 266.80,628.43 267.05,632.04 267.30,635.21 267.55,637.92 267.80,640.19 268.05,642.05 268.30,643.53 268.55,644.69 268.80,645.57 269.05,646.23 269.30,646.72 269.55,647.07 269.80,647.31 270.05,647.48 270.30,647.60 270.55,647.67 270.80,647.72 271.05,647.75 271.30,647.77 271.55,647.78 271.80,647.79 272.05,647.79 272.30,647.80 272.55,647.80 272.80,647.80 273.05,647.80 273.30,647.80 273.55,647.80 273.80,647.80 274.05,647.80 274.30,647.80 274.55,647.80 274.80,647.80 275.05,647.80 275.30,647.80 275.55,647.80 275.80,647.80 276.05,647.80 276.30,647.80 276.55,647.80 276.80,647.80 277.05,647.80 277.30,647.80 277.55,647.80 277.80,647.80 278.05,647.80 278.30,647.80 278.55,647.80 278.80,647.80 279.05,647.80 279.30,647.80 279.55,647.80 279.80,647.80 280.05,647.80 280.30,647.80 280.55,647.80 280.80,647.80 281.05,647.80 281.30,647.80 281.55,647.80 281.80,647.80 282.05,647.80 282.30,647.80 282.55,647.80 282.80,647.80 283.05,647.80 283.30,647.80 283.55,647.80 283.80,647.80 284.05,647.80 284.30,647.80 284.55,647.80 284.80,647.80 285.05,647.80 285.30,647.80 285.55,647.80 285.80,647.80 286.05,647.80 286.30,647.80 286.55,647.80 286.80,647.80 287.05,647.80 287.30,647.80 287.55,647.80 287.80,647.80 288.05,647.80 288.30,647.80 288.55,647.80 288.80,647.80 289.05,647.80 289.30,647.80 289.55,647.80 289.80,647.80 290.05,647.80 290.30,647.80 290.55,647.80 290.80,647.80 291.05,647.80 291.30,647.80 291.55,647.80 291.80,647.80 292.05,647.80 292.30,647.80 292.55,647.80 292.80,647.80 293.05,647.80 293.30,647.80 293.55,647.80 293.80,647.80 294.05,647.80 294.30,647.80 294.55,647.80 294.80,647.80 295.05,647.80 295.30,647.80 295.55,647.80 295.80,647.80 296.05,647.80 296.30,647.80 296.55,647.80 296.80,647.80 297.05,647.80 297.30,647.80 297.55,647.80 297.80,647.80 298.05,647.80 298.30,647.80 298.55,647.80 298.80,647.80 299.05,647.80 299.30,647.80 299.55,647.80 299.80,647.80 300.05,647.80 300.30,647.80 300.55,647.80 300.80,647.80 301.05,647.80 301.30,647.80 301.55,647.80 301.80,647.80 302.05,647.80 302.30,647.80 302.55,647.80 302.80,647.80 303.05,647.80 303.30,647.80 303.55,647.80 303.80,647.80 304.05,647.80 304.30,647.80 304.55,647.80 304.80,647.80 305.05,647.80 305.30,647.80 305.55,647.80 305.80,647.80 306.05,647.80 306.30,647.80 306.55,647.80 306.80,647.80 307.05,647.80 307.30,647.80 307.55,647.80 307.80,647.80 308.05,647.80 308.30,647.80 308.55,647.80 308.80,647.80 309.05,647.80 309.30,647.80 309.55,647.80 309.80,647.80 310.05,647.80 310.30,647.80 310.55,647.80 310.80,647.80 311.05,647.80 311.30,647.80 311.55,647.80 311.80,647.80 312.05,647.80 312.30,647.80 312.55,647.79 312.80,647.79 313.05,647.78 313.30,647.77 313.55,647.75 313.80,647.72 314.05,647.68 314.30,647.62 314.55,647.53 314.80,647.41 315.05,647.25 315.30,647.05 315.55,646.80 315.80,646.50 316.05,646.17 316.30,645.80 316.55,645.42 316.80,645.04 317.05,644.69 317.30,644.39 317.55,644.17 317.80,644.03 318.05,644.00 318.30,644.08 318.55,644.25 318.80,644.50 319.05,644.83 319.30,645.19 319.55,645.57 319.80,645.95 320.05,646.31 320.30,646.63 320.55,646.90 320.80,647.13 321.05,647.32 321.30,647.46 321.55,647.57 321.80,647.65" fill="none" stroke="#7a4496" stroke-width="0.95" stroke-linejoin="round"/>
<polyline points="221.30,647.48 221.55,647.32 221.80,647.07 222.05,646.72 222.30,646.23 222.55,645.56 222.80,644.65 223.05,643.47 223.30,641.95 223.55,640.03 223.80,637.68 224.05,634.85 224.30,631.53 224.55,627.73 224.80,623.48 225.05,618.88 225.30,614.02 225.55,609.06 225.80,604.18 226.05,599.57 226.30,595.44 226.55,591.98 226.80,589.37 227.05,587.75 227.30,587.20 227.55,587.75 227.80,589.37 228.05,591.97 228.30,595.42 228.55,599.54 228.80,604.13 229.05,608.98 229.30,613.88 229.55,618.66 229.80,623.15 230.05,627.23 230.30,630.78 230.55,633.75 230.80,636.09 231.05,637.78 231.30,638.81 231.55,639.19 231.80,638.91 232.05,637.99 232.30,636.44 232.55,634.28 232.80,631.56 233.05,628.32 233.30,624.64 233.55,620.62 233.80,616.40 234.05,612.11 234.30,607.95 234.55,604.08 234.80,600.70 235.05,597.96 235.30,596.02 235.55,594.97 235.80,594.88 236.05,595.74 236.30,597.51 236.55,600.11 236.80,603.39 237.05,607.19 237.30,611.33 237.55,615.64 237.80,619.95 238.05,624.11 238.30,628.00 238.55,631.52 238.80,634.62 239.05,637.25 239.30,639.41 239.55,641.09 239.80,642.31 240.05,643.06 240.30,643.35 240.55,643.18 240.80,642.53 241.05,641.37 241.30,639.67 241.55,637.37 241.80,634.44 242.05,630.86 242.30,626.60 242.55,621.71 242.80,616.23 243.05,610.26 243.30,603.97 243.55,597.55 243.80,591.22 244.05,585.24 244.30,579.88 244.55,575.40 244.80,572.02 245.05,569.91 245.30,569.20 245.55,569.91 245.80,572.02 246.05,575.40 246.30,579.88 246.55,585.24 246.80,591.22 247.05,597.55 247.30,603.98 247.55,610.28 247.80,616.26 248.05,621.76 248.30,626.69 248.55,631.00 248.80,634.67 249.05,637.73 249.30,640.21 249.55,642.18 249.80,643.72 250.05,644.89 250.30,645.76 250.55,646.40 250.80,646.85 251.05,647.17 251.30,647.39 251.55,647.54 251.80,647.64 252.05,647.70 252.30,647.74 252.55,647.76 252.80,647.78 253.05,647.79 253.30,647.79 253.55,647.80 253.80,647.80 254.05,647.80 254.30,647.80 254.55,647.80 254.80,647.80 255.05,647.80 255.30,647.80 255.55,647.80 255.80,647.80 256.05,647.80 256.30,647.80 256.55,647.80 256.80,647.80 257.05,647.80 257.30,647.80 257.55,647.80 257.80,647.80 258.05,647.80 258.30,647.80 258.55,647.80 258.80,647.80 259.05,647.80 259.30,647.80 259.55,647.80 259.80,647.80 260.05,647.80 260.30,647.80 260.55,647.80 260.80,647.80 261.05,647.80 261.30,647.80 261.55,647.80 261.80,647.80 262.05,647.80 262.30,647.80 262.55,647.80 262.80,647.80 263.05,647.80 263.30,647.80 263.55,647.80 263.80,647.80 264.05,647.80 264.30,647.80 264.55,647.80 264.80,647.80 265.05,647.80 265.30,647.80 265.55,647.80 265.80,647.79 266.05,647.79 266.30,647.78 266.55,647.76 266.80,647.74 267.05,647.69 267.30,647.63 267.55,647.52 267.80,647.37 268.05,647.13 268.30,646.80 268.55,646.31 268.80,645.64 269.05,644.72 269.30,643.48 269.55,641.85 269.80,639.76 270.05,637.12 270.30,633.89 270.55,630.00 270.80,625.43 271.05,620.21 271.30,614.37 271.55,608.04 271.80,601.36 272.05,594.55 272.30,587.84 272.55,581.50 272.80,575.82 273.05,571.07 273.30,567.49 273.55,565.26 273.80,564.50 274.05,565.26 274.30,567.49 274.55,571.07 274.80,575.82 275.05,581.50 275.30,587.84 275.55,594.55 275.80,601.36 276.05,608.04 276.30,614.37 276.55,620.21 276.80,625.43 277.05,630.00 277.30,633.89 277.55,637.12 277.80,639.76 278.05,641.85 278.30,643.48 278.55,644.72 278.80,645.64 279.05,646.31 279.30,646.80 279.55,647.13 279.80,647.37 280.05,647.52 280.30,647.63 280.55,647.69 280.80,647.74 281.05,647.76 281.30,647.78 281.55,647.79 281.80,647.79 282.05,647.80 282.30,647.80 282.55,647.80 282.80,647.80 283.05,647.80 283.30,647.80 283.55,647.80 283.80,647.80 284.05,647.80 284.30,647.80 284.55,647.80 284.80,647.80 285.05,647.80 285.30,647.80 285.55,647.80 285.80,647.80 286.05,647.80 286.30,647.80 286.55,647.80 286.80,647.80 287.05,647.80 287.30,647.80 287.55,647.80 287.80,647.80 288.05,647.80 288.30,647.80 288.55,647.80 288.80,647.80 289.05,647.80 289.30,647.80 289.55,647.80 289.80,647.80 290.05,647.80 290.30,647.80 290.55,647.80 290.80,647.80 291.05,647.80 291.30,647.80 291.55,647.80 291.80,647.80 292.05,647.80 292.30,647.80 292.55,647.80 292.80,647.80 293.05,647.80 293.30,647.80 293.55,647.80 293.80,647.80 294.05,647.80 294.30,647.80 294.55,647.80 294.80,647.80 295.05,647.80 295.30,647.80 295.55,647.80 295.80,647.80 296.05,647.80 296.30,647.80 296.55,647.80 296.80,647.80 297.05,647.80 297.30,647.80 297.55,647.80 297.80,647.80 298.05,647.80 298.30,647.80 298.55,647.80 298.80,647.80 299.05,647.80 299.30,647.80 299.55,647.80 299.80,647.80 300.05,647.80 300.30,647.80 300.55,647.79 300.80,647.79 301.05,647.78 301.30,647.77 301.55,647.75 301.80,647.72 302.05,647.67 302.30,647.60 302.55,647.48 302.80,647.32 303.05,647.07 303.30,646.73 303.55,646.24 303.80,645.59 304.05,644.71 304.30,643.56 304.55,642.09 304.80,640.25 305.05,637.99 305.30,635.30 305.55,632.15 305.80,628.56 306.05,624.58 306.30,620.29 306.55,615.78 306.80,611.22 307.05,606.76 307.30,602.59 307.55,598.89 307.80,595.85 308.05,593.63 308.30,592.33 308.55,592.02 308.80,592.73 309.05,594.41 309.30,596.98 309.55,600.30 309.80,604.21 310.05,608.52 310.30,613.04 310.55,617.60 310.80,622.04 311.05,626.22 311.30,630.05 311.55,633.46 311.80,636.43 312.05,638.95 312.30,641.03 312.55,642.72 312.80,644.05 313.05,645.09 313.30,645.87 313.55,646.46 313.80,646.88 314.05,647.18 314.30,647.39 314.55,647.53 314.80,647.63 315.05,647.69 315.30,647.74 315.55,647.76 315.80,647.78 316.05,647.79 316.30,647.79 316.55,647.80 316.80,647.80 317.05,647.80 317.30,647.80 317.55,647.80 317.80,647.80 318.05,647.80 318.30,647.80 318.55,647.80 318.80,647.80 319.05,647.80 319.30,647.80 319.55,647.80 319.80,647.80 320.05,647.80 320.30,647.80 320.55,647.80 320.80,647.80 321.05,647.80 321.30,647.80 321.55,647.80 321.80,647.80" fill="none" stroke="#45b854" stroke-width="0.95" stroke-linejoin="round"/>
<polyline points="221.30,647.80 221.55,647.80 221.80,647.80 222.05,647.80 222.30,647.80 222.55,647.80 222.80,647.80 223.05,647.80 223.30,647.80 223.55,647.80 223.80,647.80 224.05,647.80 224.30,647.80 224.55,647.80 224.80,647.80 225.05,647.80 225.30,647.80 225.55,647.80 225.80,647.80 226.05,647.80 226.30,647.80 226.55,647.80 226.80,647.80 227.05,647.80 227.30,647.80 227.55,647.80 227.80,647.80 228.05,647.80 228.30,647.80 228.55,647.80 228.80,647.80 229.05,647.80 229.30,647.80 229.55,647.80 229.80,647.80 230.05,647.80 230.30,647.80 230.55,647.80 230.80,647.80 231.05,647.80 231.30,647.80 231.55,647.80 231.80,647.80 232.05,647.80 232.30,647.80 232.55,647.80 232.80,647.80 233.05,647.80 233.30,647.80 233.55,647.80 233.80,647.80 234.05,647.80 234.30,647.80 234.55,647.80 234.80,647.80 235.05,647.80 235.30,647.80 235.55,647.80 235.80,647.80 236.05,647.80 236.30,647.80 236.55,647.80 236.80,647.80 237.05,647.80 237.30,647.80 237.55,647.80 237.80,647.80 238.05,647.80 238.30,647.80 238.55,647.80 238.80,647.80 239.05,647.80 239.30,647.80 239.55,647.80 239.80,647.80 240.05,647.80 240.30,647.80 240.55,647.80 240.80,647.80 241.05,647.80 241.30,647.80 241.55,647.80 241.80,647.80 242.05,647.80 242.30,647.80 242.55,647.80 242.80,647.80 243.05,647.80 243.30,647.80 243.55,647.80 243.80,647.80 244.05,647.80 244.30,647.80 244.55,647.80 244.80,647.80 245.05,647.80 245.30,647.80 245.55,647.80 245.80,647.80 246.05,647.80 246.30,647.80 246.55,647.80 246.80,647.80 247.05,647.80 247.30,647.80 247.55,647.80 247.80,647.80 248.05,647.80 248.30,647.80 248.55,647.80 248.80,647.80 249.05,647.80 249.30,647.80 249.55,647.80 249.80,647.80 250.05,647.80 250.30,647.80 250.55,647.80 250.80,647.80 251.05,647.80 251.30,647.80 251.55,647.80 251.80,647.80 252.05,647.80 252.30,647.80 252.55,647.79 252.80,647.79 253.05,647.78 253.30,647.77 253.55,647.75 253.80,647.72 254.05,647.68 254.30,647.62 254.55,647.53 254.80,647.41 255.05,647.25 255.30,647.05 255.55,646.80 255.80,646.50 256.05,646.17 256.30,645.80 256.55,645.42 256.80,645.04 257.05,644.69 257.30,644.39 257.55,644.17 257.80,644.03 258.05,644.00 258.30,644.08 258.55,644.25 258.80,644.50 259.05,644.83 259.30,645.19 259.55,645.57 259.80,645.95 260.05,646.31 260.30,646.63 260.55,646.90 260.80,647.13 261.05,647.32 261.30,647.46 261.55,647.57 261.80,647.65 262.05,647.70 262.30,647.74 262.55,647.76 262.80,647.78 263.05,647.79 263.30,647.79 263.55,647.80 263.80,647.80 264.05,647.80 264.30,647.80 264.55,647.80 264.80,647.80 265.05,647.80 265.30,647.80 265.55,647.80 265.80,647.80 266.05,647.80 266.30,647.80 266.55,647.80 266.80,647.80 267.05,647.80 267.30,647.80 267.55,647.80 267.80,647.80 268.05,647.80 268.30,647.80 268.55,647.80 268.80,647.80 269.05,647.80 269.30,647.80 269.55,647.80 269.80,647.80 270.05,647.80 270.30,647.80 270.55,647.80 270.80,647.80 271.05,647.80 271.30,647.80 271.55,647.80 271.80,647.80 272.05,647.80 272.30,647.80 272.55,647.80 272.80,647.80 273.05,647.80 273.30,647.80 273.55,647.79 273.80,647.79 274.05,647.78 274.30,647.77 274.55,647.75 274.80,647.72 275.05,647.66 275.30,647.58 275.55,647.46 275.80,647.27 276.05,647.00 276.30,646.62 276.55,646.07 276.80,645.33 277.05,644.32 277.30,642.99 277.55,641.28 277.80,639.12 278.05,636.44 278.30,633.21 278.55,629.41 278.80,625.02 279.05,620.11 279.30,614.74 279.55,609.05 279.80,603.20 280.05,597.39 280.30,591.86 280.55,586.85 280.80,582.59 281.05,579.30 281.30,577.14 281.55,576.23 281.80,576.62 282.05,578.29 282.30,581.14 282.55,585.04 282.80,589.78 283.05,595.12 283.30,600.83 283.55,606.67 283.80,612.42 284.05,617.89 284.30,622.92 284.55,627.41 284.80,631.27 285.05,634.47 285.30,636.99 285.55,638.83 285.80,639.99 286.05,640.48 286.30,640.29 286.55,639.42 286.80,637.86 287.05,635.58 287.30,632.58 287.55,628.86 287.80,624.42 288.05,619.32 288.30,613.64 288.55,607.53 288.80,601.14 289.05,594.70 289.30,588.46 289.55,582.67 289.80,577.61 290.05,573.53 290.30,570.62 290.55,569.06 290.80,568.92 291.05,570.20 291.30,572.85 291.55,576.71 291.80,581.60 292.05,587.27 292.30,593.45 292.55,599.88 292.80,606.32 293.05,612.54 293.30,618.37 293.55,623.69 293.80,628.40 294.05,632.47 294.30,635.91 294.55,638.74 294.80,641.02 295.05,642.82 295.30,644.21 295.55,645.26 295.80,646.03 296.05,646.59 296.30,646.99 296.55,647.27 296.80,647.46 297.05,647.58 297.30,647.66 297.55,647.72 297.80,647.75 298.05,647.77 298.30,647.78 298.55,647.79 298.80,647.79 299.05,647.80 299.30,647.80 299.55,647.80 299.80,647.80 300.05,647.80 300.30,647.80 300.55,647.80 300.80,647.80 301.05,647.80 301.30,647.80 301.55,647.80 301.80,647.80 302.05,647.80 302.30,647.80 302.55,647.80 302.80,647.80 303.05,647.80 303.30,647.80 303.55,647.80 303.80,647.80 304.05,647.80 304.30,647.80 304.55,647.80 304.80,647.80 305.05,647.80 305.30,647.80 305.55,647.80 305.80,647.80 306.05,647.80 306.30,647.80 306.55,647.80 306.80,647.80 307.05,647.80 307.30,647.80 307.55,647.80 307.80,647.80 308.05,647.80 308.30,647.80 308.55,647.80 308.80,647.80 309.05,647.80 309.30,647.80 309.55,647.79 309.80,647.79 310.05,647.78 310.30,647.77 310.55,647.74 310.80,647.71 311.05,647.65 311.30,647.55 311.55,647.41 311.80,647.20 312.05,646.90 312.30,646.46 312.55,645.84 312.80,645.00 313.05,643.86 313.30,642.35 313.55,640.41 313.80,637.95 314.05,634.92 314.30,631.26 314.55,626.94 314.80,621.97 315.05,616.40 315.30,610.31 315.55,603.85 315.80,597.22 316.05,590.64 316.30,584.36 316.55,578.68 316.80,573.85 317.05,570.11 317.30,567.66 317.55,566.63 317.80,567.07 318.05,568.97 318.30,572.21 318.55,576.63 318.80,582.01 319.05,588.07 319.30,594.57 319.55,601.21 319.80,607.76 320.05,614.02 320.30,619.81 320.55,625.03 320.80,629.61 321.05,633.53 321.30,636.81 321.55,639.49 321.80,641.63" fill="none" stroke="#d21d45" stroke-width="0.95" stroke-linejoin="round"/>
<polyline points="221.30,622.03 221.55,624.91 221.80,627.84 222.05,630.71 222.30,633.43 222.55,635.94 222.80,638.19 223.05,640.15 223.30,641.82 223.55,643.21 223.80,644.34 224.05,645.24 224.30,645.94 224.55,646.47 224.80,646.87 225.05,647.16 225.30,647.37 225.55,647.51 225.80,647.61 226.05,647.68 226.30,647.73 226.55,647.75 226.80,647.77 227.05,647.78 227.30,647.79 227.55,647.79 227.80,647.80 228.05,647.80 228.30,647.80 228.55,647.80 228.80,647.80 229.05,647.80 229.30,647.80 229.55,647.80 229.80,647.80 230.05,647.80 230.30,647.80 230.55,647.80 230.80,647.80 231.05,647.80 231.30,647.80 231.55,647.80 231.80,647.80 232.05,647.80 232.30,647.80 232.55,647.80 232.80,647.80 233.05,647.80 233.30,647.80 233.55,647.80 233.80,647.80 234.05,647.80 234.30,647.80 234.55,647.80 234.80,647.80 235.05,647.80 235.30,647.80 235.55,647.80 235.80,647.80 236.05,647.80 236.30,647.80 236.55,647.80 236.80,647.80 237.05,647.80 237.30,647.80 237.55,647.80 237.80,647.80 238.05,647.80 238.30,647.80 238.55,647.80 238.80,647.80 239.05,647.80 239.30,647.80 239.55,647.80 239.80,647.80 240.05,647.80 240.30,647.80 240.55,647.80 240.80,647.80 241.05,647.80 241.30,647.80 241.55,647.80 241.80,647.80 242.05,647.80 242.30,647.80 242.55,647.80 242.80,647.80 243.05,647.80 243.30,647.80 243.55,647.80 243.80,647.80 244.05,647.80 244.30,647.80 244.55,647.80 244.80,647.80 245.05,647.80 245.30,647.80 245.55,647.80 245.80,647.80 246.05,647.80 246.30,647.80 246.55,647.80 246.80,647.80 247.05,647.80 247.30,647.80 247.55,647.80 247.80,647.80 248.05,647.80 248.30,647.80 248.55,647.80 248.80,647.80 249.05,647.80 249.30,647.80 249.55,647.80 249.80,647.80 250.05,647.80 250.30,647.80 250.55,647.80 250.80,647.80 251.05,647.80 251.30,647.80 251.55,647.80 251.80,647.80 252.05,647.80 252.30,647.80 252.55,647.80 252.80,647.80 253.05,647.80 253.30,647.80 253.55,647.80 253.80,647.80 254.05,647.80 254.30,647.80 254.55,647.80 254.80,647.80 255.05,647.80 255.30,647.80 255.55,647.80 255.80,647.80 256.05,647.79 256.30,647.79 256.55,647.78 256.80,647.77 257.05,647.75 257.30,647.72 257.55,647.68 257.80,647.61 258.05,647.51 258.30,647.36 258.55,647.16 258.80,646.87 259.05,646.48 259.30,645.97 259.55,645.30 259.80,644.44 260.05,643.37 260.30,642.07 260.55,640.53 260.80,638.73 261.05,636.69 261.30,634.44 261.55,632.02 261.80,629.51 262.05,626.97 262.30,624.52 262.55,622.25 262.80,620.26 263.05,618.66 263.30,617.52 263.55,616.90 263.80,616.85 264.05,617.35 264.30,618.39 264.55,619.91 264.80,621.82 265.05,624.05 265.30,626.47 265.55,629.00 265.80,631.52 266.05,633.97 266.30,636.25 266.55,638.34 266.80,640.18 267.05,641.78 267.30,643.13 267.55,644.24 267.80,645.13 268.05,645.83 268.30,646.36 268.55,646.76 268.80,647.03 269.05,647.21 269.30,647.30 269.55,647.32 269.80,647.27 270.05,647.16 270.30,646.99 270.55,646.77 270.80,646.48 271.05,646.16 271.30,645.79 271.55,645.41 271.80,645.04 272.05,644.69 272.30,644.39 272.55,644.17 272.80,644.03 273.05,644.00 273.30,644.08 273.55,644.25 273.80,644.50 274.05,644.83 274.30,645.19 274.55,645.57 274.80,645.95 275.05,646.30 275.30,646.62 275.55,646.89 275.80,647.11 276.05,647.27 276.30,647.39 276.55,647.46 276.80,647.47 277.05,647.44 277.30,647.36 277.55,647.22 277.80,647.01 278.05,646.74 278.30,646.38 278.55,645.94 278.80,645.40 279.05,644.78 279.30,644.08 279.55,643.30 279.80,642.49 280.05,641.66 280.30,640.86 280.55,640.11 280.80,639.47 281.05,638.97 281.30,638.64 281.55,638.50 281.80,638.56 282.05,638.82 282.30,639.26 282.55,639.84 282.80,640.55 283.05,641.34 283.30,642.16 283.55,642.98 283.80,643.77 284.05,644.50 284.30,645.16 284.55,645.73 284.80,646.20 285.05,646.59 285.30,646.89 285.55,647.11 285.80,647.26 286.05,647.35 286.30,647.38 286.55,647.35 286.80,647.26 287.05,647.12 287.30,646.91 287.55,646.65 287.80,646.32 288.05,645.92 288.30,645.47 288.55,644.97 288.80,644.43 289.05,643.87 289.30,643.31 289.55,642.79 289.80,642.32 290.05,641.94 290.30,641.67 290.55,641.52 290.80,641.51 291.05,641.63 291.30,641.88 291.55,642.24 291.80,642.69 292.05,643.20 292.30,643.74 292.55,644.29 292.80,644.82 293.05,645.31 293.30,645.73 293.55,646.07 293.80,646.31 294.05,646.43 294.30,646.42 294.55,646.25 294.80,645.88 295.05,645.28 295.30,644.39 295.55,643.16 295.80,641.51 296.05,639.38 296.30,636.70 296.55,633.41 296.80,629.46 297.05,624.85 297.30,619.60 297.55,613.76 297.80,607.47 298.05,600.86 298.30,594.17 298.55,587.63 298.80,581.52 299.05,576.10 299.30,571.65 299.55,568.38 299.80,566.48 300.05,566.03 300.30,567.07 300.55,569.54 300.80,573.30 301.05,578.17 301.30,583.90 301.55,590.21 301.80,596.85 302.05,603.53 302.30,610.03 302.55,616.16 302.80,621.78 303.05,626.78 303.30,631.13 303.55,634.82 303.80,637.87 304.05,640.33 304.30,642.27 304.55,643.77 304.80,644.88 305.05,645.68 305.30,646.22 305.55,646.55 305.80,646.71 306.05,646.72 306.30,646.60 306.55,646.38 306.80,646.07 307.05,645.68 307.30,645.24 307.55,644.77 307.80,644.30 308.05,643.87 308.30,643.49 308.55,643.21 308.80,643.04 309.05,643.00 309.30,643.09 309.55,643.31 309.80,643.64 310.05,644.04 310.30,644.50 310.55,644.99 310.80,645.46 311.05,645.91 311.30,646.32 311.55,646.67 311.80,646.96 312.05,647.19 312.30,647.37 312.55,647.51 312.80,647.61 313.05,647.67 313.30,647.72 313.55,647.75 313.80,647.77 314.05,647.78 314.30,647.79 314.55,647.79 314.80,647.80 315.05,647.80 315.30,647.80 315.55,647.80 315.80,647.80 316.05,647.80 316.30,647.80 316.55,647.80 316.80,647.80 317.05,647.80 317.30,647.80 317.55,647.80 317.80,647.80 318.05,647.80 318.30,647.80 318.55,647.80 318.80,647.80 319.05,647.80 319.30,647.80 319.55,647.80 319.80,647.80 320.05,647.80 320.30,647.80 320.55,647.80 320.80,647.80 321.05,647.80 321.30,647.80 321.55,647.80 321.80,647.80" fill="none" stroke="#2c6498" stroke-width="0.95" stroke-linejoin="round"/>
<line x1="404.20" y1="650.00" x2="503.60" y2="650.00" stroke="#c8c8c8" stroke-width="1.7" />
<polyline points="404.20,647.80 404.45,647.80 404.70,647.80 404.95,647.80 405.20,647.80 405.45,647.80 405.70,647.80 405.95,647.80 406.20,647.80 406.45,647.80 406.70,647.80 406.95,647.80 407.20,647.80 407.45,647.80 407.71,647.80 407.96,647.80 408.21,647.80 408.46,647.80 408.71,647.80 408.96,647.80 409.21,647.80 409.46,647.80 409.71,647.80 409.96,647.80 410.21,647.80 410.46,647.80 410.71,647.80 410.96,647.80 411.21,647.80 411.46,647.80 411.71,647.80 411.96,647.80 412.21,647.79 412.46,647.79 412.71,647.78 412.96,647.77 413.21,647.75 413.46,647.72 413.71,647.67 413.96,647.60 414.22,647.49 414.47,647.34 414.72,647.12 414.97,646.81 415.22,646.40 415.47,645.84 415.72,645.11 415.97,644.19 416.22,643.02 416.47,641.61 416.72,639.91 416.97,637.93 417.22,635.69 417.47,633.20 417.72,630.52 417.97,627.71 418.22,624.88 418.47,622.12 418.72,619.55 418.97,617.29 419.22,615.44 419.47,614.11 419.72,613.36 419.97,613.23 420.22,613.73 420.47,614.83 420.72,616.47 420.98,618.58 421.23,621.03 421.48,623.73 421.73,626.55 421.98,629.37 422.23,632.12 422.48,634.69 422.73,637.04 422.98,639.13 423.23,640.94 423.48,642.47 423.73,643.74 423.98,644.76 424.23,645.56 424.48,646.19 424.73,646.66 424.98,647.00 425.23,647.26 425.48,647.44 425.73,647.56 425.98,647.64 426.23,647.70 426.48,647.74 426.73,647.76 426.98,647.78 427.23,647.79 427.49,647.79 427.74,647.80 427.99,647.80 428.24,647.80 428.49,647.80 428.74,647.80 428.99,647.80 429.24,647.80 429.49,647.80 429.74,647.80 429.99,647.80 430.24,647.80 430.49,647.80 430.74,647.80 430.99,647.80 431.24,647.80 431.49,647.80 431.74,647.80 431.99,647.80 432.24,647.80 432.49,647.80 432.74,647.80 432.99,647.80 433.24,647.80 433.49,647.80 433.74,647.80 433.99,647.80 434.25,647.80 434.50,647.80 434.75,647.80 435.00,647.80 435.25,647.80 435.50,647.80 435.75,647.80 436.00,647.80 436.25,647.80 436.50,647.80 436.75,647.80 437.00,647.80 437.25,647.80 437.50,647.80 437.75,647.80 438.00,647.80 438.25,647.80 438.50,647.80 438.75,647.80 439.00,647.80 439.25,647.80 439.50,647.80 439.75,647.80 440.00,647.80 440.25,647.80 440.50,647.80 440.76,647.80 441.01,647.80 441.26,647.80 441.51,647.80 441.76,647.80 442.01,647.80 442.26,647.80 442.51,647.80 442.76,647.80 443.01,647.80 443.26,647.80 443.51,647.80 443.76,647.80 444.01,647.80 444.26,647.80 444.51,647.80 444.76,647.80 445.01,647.80 445.26,647.80 445.51,647.80 445.76,647.80 446.01,647.80 446.26,647.80 446.51,647.80 446.76,647.80 447.01,647.80 447.26,647.80 447.52,647.80 447.77,647.80 448.02,647.80 448.27,647.80 448.52,647.80 448.77,647.80 449.02,647.80 449.27,647.80 449.52,647.80 449.77,647.80 450.02,647.80 450.27,647.80 450.52,647.80 450.77,647.80 451.02,647.80 451.27,647.80 451.52,647.80 451.77,647.79 452.02,647.78 452.27,647.77 452.52,647.76 452.77,647.73 453.02,647.69 453.27,647.63 453.52,647.54 453.77,647.42 454.03,647.27 454.28,647.07 454.53,646.82 454.78,646.53 455.03,646.20 455.28,645.84 455.53,645.45 455.78,645.07 456.03,644.72 456.28,644.41 456.53,644.18 456.78,644.04 457.03,644.00 457.28,644.06 457.53,644.23 457.78,644.48 458.03,644.80 458.28,645.15 458.53,645.53 458.78,645.90 459.03,646.24 459.28,646.53 459.53,646.77 459.78,646.93 460.03,647.01 460.28,646.98 460.54,646.84 460.79,646.56 461.04,646.11 461.29,645.43 461.54,644.49 461.79,643.22 462.04,641.55 462.29,639.41 462.54,636.74 462.79,633.48 463.04,629.59 463.29,625.06 463.54,619.92 463.79,614.24 464.04,608.14 464.29,601.77 464.54,595.35 464.79,589.13 465.04,583.35 465.29,578.29 465.54,574.20 465.79,571.27 466.04,569.68 466.29,569.50 466.54,570.74 466.79,573.34 467.04,577.16 467.30,582.00 467.55,587.62 467.80,593.76 468.05,600.15 468.30,606.55 468.55,612.74 468.80,618.54 469.05,623.83 469.30,628.51 469.55,632.56 469.80,635.98 470.05,638.80 470.30,641.07 470.55,642.86 470.80,644.24 471.05,645.28 471.30,646.05 471.55,646.61 471.80,647.00 472.05,647.27 472.30,647.46 472.55,647.58 472.80,647.67 473.05,647.72 473.30,647.75 473.55,647.77 473.81,647.78 474.06,647.79 474.31,647.79 474.56,647.80 474.81,647.80 475.06,647.80 475.31,647.80 475.56,647.80 475.81,647.80 476.06,647.80 476.31,647.80 476.56,647.80 476.81,647.80 477.06,647.80 477.31,647.80 477.56,647.80 477.81,647.80 478.06,647.80 478.31,647.80 478.56,647.80 478.81,647.80 479.06,647.80 479.31,647.80 479.56,647.80 479.81,647.80 480.06,647.80 480.31,647.80 480.57,647.80 480.82,647.80 481.07,647.80 481.32,647.80 481.57,647.80 481.82,647.80 482.07,647.80 482.32,647.80 482.57,647.80 482.82,647.80 483.07,647.80 483.32,647.80 483.57,647.80 483.82,647.80 484.07,647.80 484.32,647.80 484.57,647.80 484.82,647.80 485.07,647.80 485.32,647.80 485.57,647.80 485.82,647.80 486.07,647.80 486.32,647.80 486.57,647.79 486.82,647.79 487.08,647.78 487.33,647.77 487.58,647.75 487.83,647.72 488.08,647.67 488.33,647.60 488.58,647.48 488.83,647.31 489.08,647.06 489.33,646.70 489.58,646.20 489.83,645.51 490.08,644.59 490.33,643.37 490.58,641.80 490.83,639.82 491.08,637.38 491.33,634.45 491.58,630.99 491.83,627.03 492.08,622.60 492.33,617.78 492.58,612.69 492.83,607.48 493.08,602.34 493.33,597.47 493.58,593.09 493.84,589.41 494.09,586.61 494.34,584.84 494.59,584.20 494.84,584.72 495.09,586.37 495.34,589.06 495.59,592.65 495.84,596.96 496.09,601.79 496.34,606.91 496.59,612.13 496.84,617.24 497.09,622.09 497.34,626.57 497.59,630.59 497.84,634.10 498.09,637.09 498.34,639.58 498.59,641.60 498.84,643.22 499.09,644.47 499.34,645.42 499.59,646.14 499.84,646.66 500.09,647.03 500.35,647.29 500.60,647.47 500.85,647.59 501.10,647.67 501.35,647.72 501.60,647.75 501.85,647.77 502.10,647.78 502.35,647.79 502.60,647.79 502.85,647.80 503.10,647.80 503.35,647.80 503.60,647.80" fill="none" stroke="#7a4496" stroke-width="0.95" stroke-linejoin="round"/>
<polyline points="404.20,647.79 404.45,647.79 404.70,647.78 404.95,647.77 405.20,647.76 405.45,647.74 405.70,647.72 405.95,647.68 406.20,647.64 406.45,647.59 406.70,647.52 406.95,647.44 407.20,647.34 407.45,647.22 407.71,647.08 407.96,646.92 408.21,646.74 408.46,646.55 408.71,646.35 408.96,646.14 409.21,645.93 409.46,645.72 409.71,645.53 409.96,645.35 410.21,645.21 410.46,645.10 410.71,645.03 410.96,645.00 411.21,645.02 411.46,645.07 411.71,645.17 411.96,645.31 412.21,645.47 412.46,645.66 412.71,645.86 412.96,646.07 413.21,646.28 413.46,646.49 413.71,646.69 413.96,646.87 414.22,647.03 414.47,647.18 414.72,647.30 414.97,647.41 415.22,647.50 415.47,647.57 415.72,647.63 415.97,647.67 416.22,647.71 416.47,647.73 416.72,647.75 416.97,647.77 417.22,647.78 417.47,647.79 417.72,647.79 417.97,647.79 418.22,647.80 418.47,647.80 418.72,647.80 418.97,647.80 419.22,647.80 419.47,647.80 419.72,647.80 419.97,647.80 420.22,647.80 420.47,647.80 420.72,647.80 420.98,647.80 421.23,647.80 421.48,647.80 421.73,647.80 421.98,647.80 422.23,647.80 422.48,647.80 422.73,647.80 422.98,647.80 423.23,647.80 423.48,647.80 423.73,647.80 423.98,647.80 424.23,647.80 424.48,647.80 424.73,647.80 424.98,647.80 425.23,647.80 425.48,647.80 425.73,647.80 425.98,647.80 426.23,647.80 426.48,647.80 426.73,647.80 426.98,647.80 427.23,647.80 427.49,647.80 427.74,647.80 427.99,647.80 428.24,647.80 428.49,647.80 428.74,647.80 428.99,647.80 429.24,647.80 429.49,647.80 429.74,647.80 429.99,647.80 430.24,647.80 430.49,647.80 430.74,647.80 430.99,647.80 431.24,647.80 431.49,647.80 431.74,647.80 431.99,647.80 432.24,647.80 432.49,647.80 432.74,647.80 432.99,647.80 433.24,647.80 433.49,647.80 433.74,647.80 433.99,647.80 434.25,647.80 434.50,647.80 434.75,647.80 435.00,647.80 435.25,647.80 435.50,647.80 435.75,647.80 436.00,647.80 436.25,647.80 436.50,647.80 436.75,647.80 437.00,647.80 437.25,647.80 437.50,647.80 437.75,647.80 438.00,647.80 438.25,647.80 438.50,647.80 438.75,647.80 439.00,647.80 439.25,647.80 439.50,647.80 439.75,647.80 440.00,647.80 440.25,647.80 440.50,647.80 440.76,647.80 441.01,647.80 441.26,647.80 441.51,647.80 441.76,647.80 442.01,647.80 442.26,647.80 442.51,647.80 442.76,647.80 443.01,647.80 443.26,647.80 443.51,647.80 443.76,647.80 444.01,647.80 444.26,647.80 444.51,647.80 444.76,647.80 445.01,647.80 445.26,647.80 445.51,647.80 445.76,647.80 446.01,647.80 446.26,647.80 446.51,647.80 446.76,647.80 447.01,647.80 447.26,647.80 447.52,647.80 447.77,647.80 448.02,647.80 448.27,647.80 448.52,647.80 448.77,647.80 449.02,647.80 449.27,647.80 449.52,647.80 449.77,647.80 450.02,647.80 450.27,647.80 450.52,647.80 450.77,647.80 451.02,647.80 451.27,647.80 451.52,647.80 451.77,647.80 452.02,647.80 452.27,647.80 452.52,647.80 452.77,647.80 453.02,647.80 453.27,647.80 453.52,647.80 453.77,647.80 454.03,647.80 454.28,647.80 454.53,647.80 454.78,647.80 455.03,647.80 455.28,647.80 455.53,647.80 455.78,647.80 456.03,647.80 456.28,647.80 456.53,647.80 456.78,647.80 457.03,647.80 457.28,647.80 457.53,647.80 457.78,647.80 458.03,647.80 458.28,647.80 458.53,647.80 458.78,647.80 459.03,647.80 459.28,647.80 459.53,647.80 459.78,647.80 460.03,647.80 460.28,647.80 460.54,647.80 460.79,647.80 461.04,647.80 461.29,647.80 461.54,647.80 461.79,647.80 462.04,647.80 462.29,647.80 462.54,647.80 462.79,647.80 463.04,647.80 463.29,647.80 463.54,647.80 463.79,647.80 464.04,647.80 464.29,647.80 464.54,647.80 464.79,647.80 465.04,647.80 465.29,647.80 465.54,647.80 465.79,647.80 466.04,647.80 466.29,647.80 466.54,647.80 466.79,647.80 467.04,647.80 467.30,647.80 467.55,647.80 467.80,647.80 468.05,647.80 468.30,647.80 468.55,647.79 468.80,647.79 469.05,647.78 469.30,647.76 469.55,647.74 469.80,647.70 470.05,647.64 470.30,647.54 470.55,647.39 470.80,647.17 471.05,646.84 471.30,646.38 471.55,645.72 471.80,644.82 472.05,643.61 472.30,642.01 472.55,639.94 472.80,637.33 473.05,634.10 473.30,630.21 473.55,625.61 473.81,620.33 474.06,614.40 474.31,607.94 474.56,601.08 474.81,594.04 475.06,587.07 475.31,580.43 475.56,574.42 475.81,569.33 476.06,565.41 476.31,562.86 476.56,561.82 476.81,562.35 477.06,564.42 477.31,567.91 477.56,572.65 477.81,578.39 478.06,584.85 478.31,591.75 478.56,598.80 478.81,605.74 479.06,612.35 479.31,618.47 479.56,623.97 479.81,628.79 480.06,632.91 480.31,636.35 480.57,639.15 480.82,641.39 481.07,643.13 481.32,644.46 481.57,645.46 481.82,646.19 482.07,646.71 482.32,647.08 482.57,647.33 482.82,647.50 483.07,647.61 483.32,647.68 483.57,647.73 483.82,647.76 484.07,647.78 484.32,647.79 484.57,647.79 484.82,647.80 485.07,647.80 485.32,647.80 485.57,647.80 485.82,647.80 486.07,647.80 486.32,647.80 486.57,647.80 486.82,647.80 487.08,647.80 487.33,647.80 487.58,647.80 487.83,647.80 488.08,647.80 488.33,647.80 488.58,647.80 488.83,647.80 489.08,647.80 489.33,647.80 489.58,647.80 489.83,647.80 490.08,647.80 490.33,647.80 490.58,647.80 490.83,647.80 491.08,647.80 491.33,647.80 491.58,647.80 491.83,647.80 492.08,647.80 492.33,647.80 492.58,647.80 492.83,647.80 493.08,647.80 493.33,647.80 493.58,647.80 493.84,647.80 494.09,647.80 494.34,647.80 494.59,647.80 494.84,647.80 495.09,647.80 495.34,647.80 495.59,647.80 495.84,647.80 496.09,647.80 496.34,647.79 496.59,647.79 496.84,647.78 497.09,647.77 497.34,647.74 497.59,647.70 497.84,647.64 498.09,647.55 498.34,647.40 498.59,647.19 498.84,646.87 499.09,646.42 499.34,645.79 499.59,644.91 499.84,643.74 500.09,642.18 500.35,640.17 500.60,637.63 500.85,634.48 501.10,630.69 501.35,626.21 501.60,621.05 501.85,615.26 502.10,608.94 502.35,602.23 502.60,595.33 502.85,588.48 503.10,581.96 503.35,576.05 503.60,571.02" fill="none" stroke="#45b854" stroke-width="0.95" stroke-linejoin="round"/>
<polyline points="404.20,645.43 404.45,644.44 404.70,643.13 404.95,641.41 405.20,639.22 405.45,636.50 405.70,633.17 405.95,629.22 406.20,624.62 406.45,619.41 406.70,613.66 406.95,607.48 407.20,601.06 407.45,594.60 407.71,588.34 407.96,582.56 408.21,577.51 408.46,573.44 408.71,570.56 408.96,569.04 409.21,568.93 409.46,570.26 409.71,572.96 409.96,576.87 410.21,581.79 410.46,587.49 410.71,593.70 410.96,600.15 411.21,606.59 411.46,612.81 411.71,618.63 411.96,623.92 412.21,628.61 412.46,632.65 412.71,636.07 412.96,638.87 413.21,641.13 413.46,642.91 413.71,644.28 413.96,645.31 414.22,646.07 414.47,646.62 414.72,647.01 414.97,647.28 415.22,647.47 415.47,647.59 415.72,647.67 415.97,647.72 416.22,647.75 416.47,647.77 416.72,647.78 416.97,647.79 417.22,647.79 417.47,647.80 417.72,647.80 417.97,647.80 418.22,647.80 418.47,647.80 418.72,647.80 418.97,647.80 419.22,647.80 419.47,647.80 419.72,647.80 419.97,647.80 420.22,647.80 420.47,647.80 420.72,647.80 420.98,647.80 421.23,647.80 421.48,647.80 421.73,647.80 421.98,647.80 422.23,647.80 422.48,647.80 422.73,647.80 422.98,647.79 423.23,647.79 423.48,647.79 423.73,647.78 423.98,647.77 424.23,647.76 424.48,647.74 424.73,647.71 424.98,647.68 425.23,647.64 425.48,647.58 425.73,647.51 425.98,647.43 426.23,647.32 426.48,647.20 426.73,647.06 426.98,646.90 427.23,646.72 427.49,646.53 427.74,646.33 427.99,646.11 428.24,645.90 428.49,645.70 428.74,645.51 428.99,645.34 429.24,645.20 429.49,645.09 429.74,645.02 429.99,645.00 430.24,645.02 430.49,645.08 430.74,645.19 430.99,645.32 431.24,645.49 431.49,645.68 431.74,645.88 431.99,646.09 432.24,646.31 432.49,646.51 432.74,646.71 432.99,646.89 433.24,647.05 433.49,647.19 433.74,647.31 433.99,647.42 434.25,647.51 434.50,647.58 434.75,647.63 435.00,647.68 435.25,647.71 435.50,647.74 435.75,647.75 436.00,647.77 436.25,647.78 436.50,647.79 436.75,647.79 437.00,647.79 437.25,647.79 437.50,647.80 437.75,647.79 438.00,647.79 438.25,647.79 438.50,647.79 438.75,647.78 439.00,647.77 439.25,647.75 439.50,647.74 439.75,647.71 440.00,647.68 440.25,647.63 440.50,647.58 440.76,647.51 441.01,647.42 441.26,647.31 441.51,647.19 441.76,647.05 442.01,646.89 442.26,646.71 442.51,646.51 442.76,646.31 443.01,646.09 443.26,645.88 443.51,645.68 443.76,645.49 444.01,645.32 444.26,645.19 444.51,645.08 444.76,645.02 445.01,645.00 445.26,645.02 445.51,645.09 445.76,645.20 446.01,645.34 446.26,645.51 446.51,645.70 446.76,645.90 447.01,646.11 447.26,646.33 447.52,646.53 447.77,646.72 448.02,646.90 448.27,647.06 448.52,647.20 448.77,647.31 449.02,647.41 449.27,647.48 449.52,647.53 449.77,647.55 450.02,647.54 450.27,647.48 450.52,647.38 450.77,647.21 451.02,646.94 451.27,646.56 451.52,646.01 451.77,645.26 452.02,644.25 452.27,642.92 452.52,641.21 452.77,639.07 453.02,636.44 453.27,633.28 453.52,629.59 453.77,625.36 454.03,620.66 454.28,615.57 454.53,610.22 454.78,604.78 455.03,599.44 455.28,594.43 455.53,589.97 455.78,586.27 456.03,583.52 456.28,581.87 456.53,581.41 456.78,582.15 457.03,584.07 457.28,587.05 457.53,590.94 457.78,595.55 458.03,600.66 458.28,606.04 458.53,611.48 458.78,616.78 459.03,621.79 459.28,626.38 459.53,630.49 459.78,634.06 460.03,637.09 460.28,639.61 460.54,641.65 460.79,643.26 461.04,644.51 461.29,645.46 461.54,646.17 461.79,646.68 462.04,647.05 462.29,647.30 462.54,647.48 462.79,647.59 463.04,647.67 463.29,647.72 463.54,647.75 463.79,647.77 464.04,647.78 464.29,647.79 464.54,647.79 464.79,647.80 465.04,647.80 465.29,647.80 465.54,647.80 465.79,647.80 466.04,647.80 466.29,647.80 466.54,647.80 466.79,647.80 467.04,647.80 467.30,647.80 467.55,647.80 467.80,647.80 468.05,647.80 468.30,647.80 468.55,647.80 468.80,647.80 469.05,647.80 469.30,647.80 469.55,647.80 469.80,647.80 470.05,647.80 470.30,647.80 470.55,647.80 470.80,647.80 471.05,647.80 471.30,647.80 471.55,647.80 471.80,647.80 472.05,647.80 472.30,647.80 472.55,647.80 472.80,647.80 473.05,647.80 473.30,647.80 473.55,647.80 473.81,647.80 474.06,647.80 474.31,647.80 474.56,647.80 474.81,647.80 475.06,647.80 475.31,647.80 475.56,647.80 475.81,647.80 476.06,647.80 476.31,647.80 476.56,647.80 476.81,647.80 477.06,647.79 477.31,647.79 477.56,647.78 477.81,647.76 478.06,647.74 478.31,647.70 478.56,647.64 478.81,647.55 479.06,647.41 479.31,647.21 479.56,646.91 479.81,646.49 480.06,645.90 480.31,645.10 480.57,644.02 480.82,642.63 481.07,640.84 481.32,638.60 481.57,635.86 481.82,632.59 482.07,628.78 482.32,624.45 482.57,619.64 482.82,614.47 483.07,609.06 483.32,603.58 483.57,598.26 483.82,593.29 484.07,588.92 484.32,585.35 484.57,582.77 484.82,581.31 485.07,581.05 485.32,582.01 485.57,584.13 485.82,587.30 486.07,591.35 486.32,596.09 486.57,601.29 486.82,606.73 487.08,612.19 487.33,617.48 487.58,622.46 487.83,627.00 488.08,631.04 488.33,634.54 488.58,637.50 488.83,639.94 489.08,641.92 489.33,643.47 489.58,644.68 489.83,645.59 490.08,646.26 490.33,646.75 490.58,647.09 490.83,647.33 491.08,647.50 491.33,647.61 491.58,647.68 491.83,647.73 492.08,647.76 492.33,647.77 492.58,647.78 492.83,647.79 493.08,647.80 493.33,647.80 493.58,647.80 493.84,647.80 494.09,647.80 494.34,647.80 494.59,647.80 494.84,647.80 495.09,647.80 495.34,647.80 495.59,647.80 495.84,647.80 496.09,647.80 496.34,647.80 496.59,647.80 496.84,647.80 497.09,647.80 497.34,647.80 497.59,647.80 497.84,647.80 498.09,647.80 498.34,647.80 498.59,647.80 498.84,647.80 499.09,647.80 499.34,647.80 499.59,647.80 499.84,647.80 500.09,647.80 500.35,647.80 500.60,647.80 500.85,647.80 501.10,647.80 501.35,647.80 501.60,647.80 501.85,647.80 502.10,647.80 502.35,647.80 502.60,647.80 502.85,647.80 503.10,647.80 503.35,647.80 503.60,647.80" fill="none" stroke="#d21d45" stroke-width="0.95" stroke-linejoin="round"/>
<polyline points="404.20,645.95 404.45,645.57 404.70,645.19 404.95,644.82 405.20,644.50 405.45,644.25 405.70,644.07 405.95,644.00 406.20,644.03 406.45,644.17 406.70,644.40 406.95,644.70 407.20,645.05 407.45,645.43 407.71,645.81 407.96,646.18 408.21,646.51 408.46,646.81 408.71,647.05 408.96,647.26 409.21,647.41 409.46,647.53 409.71,647.62 409.96,647.68 410.21,647.72 410.46,647.75 410.71,647.76 410.96,647.77 411.21,647.76 411.46,647.74 411.71,647.71 411.96,647.66 412.21,647.57 412.46,647.45 412.71,647.26 412.96,646.99 413.21,646.60 413.46,646.06 413.71,645.33 413.96,644.35 414.22,643.07 414.47,641.43 414.72,639.39 414.97,636.89 415.22,633.90 415.47,630.41 415.72,626.45 415.97,622.05 416.22,617.32 416.47,612.37 416.72,607.37 416.97,602.49 417.22,597.95 417.47,593.95 417.72,590.69 417.97,588.32 418.22,586.98 418.47,586.75 418.72,587.62 418.97,589.55 419.22,592.45 419.47,596.16 419.72,600.49 419.97,605.24 420.22,610.21 420.47,615.19 420.72,620.02 420.98,624.54 421.23,628.65 421.48,632.27 421.73,635.35 421.98,637.88 422.23,639.86 422.48,641.29 422.73,642.18 422.98,642.54 423.23,642.36 423.48,641.63 423.73,640.31 423.98,638.38 424.23,635.80 424.48,632.52 424.73,628.53 424.98,623.84 425.23,618.47 425.48,612.51 425.73,606.09 425.98,599.39 426.23,592.61 426.48,586.03 426.73,579.91 426.98,574.54 427.23,570.18 427.49,567.06 427.74,565.33 427.99,565.09 428.24,566.36 428.49,569.06 428.74,573.06 428.99,578.14 429.24,584.05 429.49,590.52 429.74,597.26 429.99,604.02 430.24,610.55 430.49,616.68 430.74,622.25 430.99,627.18 431.24,631.42 431.49,634.95 431.74,637.80 431.99,640.00 432.24,641.58 432.49,642.60 432.74,643.07 432.99,643.03 433.24,642.47 433.49,641.38 433.74,639.73 433.99,637.50 434.25,634.66 434.50,631.19 434.75,627.08 435.00,622.38 435.25,617.13 435.50,611.46 435.75,605.50 436.00,599.46 436.25,593.55 436.50,588.03 436.75,583.13 437.00,579.10 437.25,576.15 437.50,574.43 437.75,574.03 438.00,574.97 438.25,577.21 438.50,580.61 438.75,585.02 439.00,590.19 439.25,595.90 439.50,601.89 439.75,607.91 440.00,613.76 440.25,619.26 440.50,624.27 440.76,628.69 441.01,632.48 441.26,635.60 441.51,638.07 441.76,639.88 442.01,641.07 442.26,641.65 442.51,641.64 442.76,641.03 443.01,639.82 443.26,638.00 443.51,635.55 443.76,632.46 444.01,628.75 444.26,624.45 444.51,619.61 444.76,614.33 445.01,608.76 445.26,603.08 445.51,597.49 445.76,592.22 446.01,587.51 446.26,583.59 446.51,580.66 446.76,578.86 447.01,578.30 447.26,579.01 447.52,580.95 447.77,584.01 448.02,588.03 448.27,592.82 448.52,598.14 448.77,603.76 449.02,609.46 449.27,615.02 449.52,620.28 449.77,625.12 450.02,629.45 450.27,633.22 450.52,636.43 450.77,639.09 451.02,641.25 451.27,642.96 451.52,644.29 451.77,645.30 452.02,646.06 452.27,646.60 452.52,646.99 452.77,647.27 453.02,647.45 453.27,647.58 453.52,647.66 453.77,647.71 454.03,647.75 454.28,647.77 454.53,647.78 454.78,647.79 455.03,647.79 455.28,647.80 455.53,647.80 455.78,647.80 456.03,647.80 456.28,647.80 456.53,647.80 456.78,647.80 457.03,647.80 457.28,647.80 457.53,647.80 457.78,647.80 458.03,647.80 458.28,647.80 458.53,647.80 458.78,647.80 459.03,647.80 459.28,647.80 459.53,647.80 459.78,647.80 460.03,647.80 460.28,647.80 460.54,647.80 460.79,647.80 461.04,647.80 461.29,647.80 461.54,647.80 461.79,647.80 462.04,647.80 462.29,647.80 462.54,647.80 462.79,647.79 463.04,647.79 463.29,647.79 463.54,647.78 463.79,647.77 464.04,647.76 464.29,647.74 464.54,647.71 464.79,647.67 465.04,647.62 465.29,647.56 465.54,647.48 465.79,647.38 466.04,647.26 466.29,647.12 466.54,646.95 466.79,646.75 467.04,646.52 467.30,646.28 467.55,646.01 467.80,645.73 468.05,645.44 468.30,645.16 468.55,644.88 468.80,644.63 469.05,644.41 469.30,644.23 469.55,644.10 469.80,644.02 470.05,644.00 470.30,644.04 470.55,644.14 470.80,644.29 471.05,644.49 471.30,644.72 471.55,644.99 471.80,645.27 472.05,645.56 472.30,645.84 472.55,646.12 472.80,646.38 473.05,646.62 473.30,646.83 473.55,647.02 473.81,647.18 474.06,647.31 474.31,647.43 474.56,647.52 474.81,647.59 475.06,647.64 475.31,647.69 475.56,647.72 475.81,647.74 476.06,647.76 476.31,647.77 476.56,647.78 476.81,647.79 477.06,647.79 477.31,647.80 477.56,647.80 477.81,647.80 478.06,647.80 478.31,647.80 478.56,647.80 478.81,647.80 479.06,647.80 479.31,647.80 479.56,647.80 479.81,647.80 480.06,647.80 480.31,647.80 480.57,647.80 480.82,647.80 481.07,647.80 481.32,647.80 481.57,647.80 481.82,647.80 482.07,647.80 482.32,647.80 482.57,647.80 482.82,647.80 483.07,647.79 483.32,647.79 483.57,647.78 483.82,647.78 484.07,647.77 484.32,647.75 484.57,647.73 484.82,647.70 485.07,647.67 485.32,647.62 485.57,647.56 485.82,647.48 486.07,647.39 486.32,647.28 486.57,647.15 486.82,647.01 487.08,646.84 487.33,646.65 487.58,646.46 487.83,646.25 488.08,646.04 488.33,645.83 488.58,645.63 488.83,645.44 489.08,645.28 489.33,645.15 489.58,645.06 489.83,645.01 490.08,645.00 490.33,645.04 490.58,645.12 490.83,645.23 491.08,645.38 491.33,645.56 491.58,645.75 491.83,645.96 492.08,646.17 492.33,646.38 492.58,646.58 492.83,646.77 493.08,646.95 493.33,647.10 493.58,647.24 493.84,647.35 494.09,647.45 494.34,647.53 494.59,647.60 494.84,647.65 495.09,647.69 495.34,647.72 495.59,647.74 495.84,647.76 496.09,647.77 496.34,647.78 496.59,647.79 496.84,647.79 497.09,647.79 497.34,647.80 497.59,647.80 497.84,647.80 498.09,647.80 498.34,647.80 498.59,647.80 498.84,647.80 499.09,647.80 499.34,647.80 499.59,647.80 499.84,647.80 500.09,647.80 500.35,647.80 500.60,647.80 500.85,647.80 501.10,647.80 501.35,647.80 501.60,647.80 501.85,647.80 502.10,647.80 502.35,647.80 502.60,647.80 502.85,647.80 503.10,647.80 503.35,647.80 503.60,647.80" fill="none" stroke="#2c6498" stroke-width="0.95" stroke-linejoin="round"/>
<circle cx="90.0" cy="584.6999999999999" r="1.35" fill="#1a1a1a"/>
<circle cx="264.1" cy="577.0999999999999" r="1.35" fill="#1a1a1a"/>
<circle cx="418.4" cy="577.0999999999999" r="1.35" fill="#1a1a1a"/>
<text x="89.50" y="661.40" font-size="9.9" text-anchor="middle" font-weight="normal" font-style="normal" fill="#111" stroke="#111" font-family='"Liberation Sans", sans-serif' >rs28368159</text>
<text x="271.80" y="661.00" font-size="9.9" text-anchor="middle" font-weight="normal" font-style="normal" fill="#111" stroke="#111" font-family='"Liberation Sans", sans-serif' >rs28368160</text>
<text x="454.00" y="661.00" font-size="9.9" text-anchor="middle" font-weight="normal" font-style="normal" fill="#111" stroke="#111" font-family='"Liberation Sans", sans-serif' >rs28368163</text></svg></body></html>
